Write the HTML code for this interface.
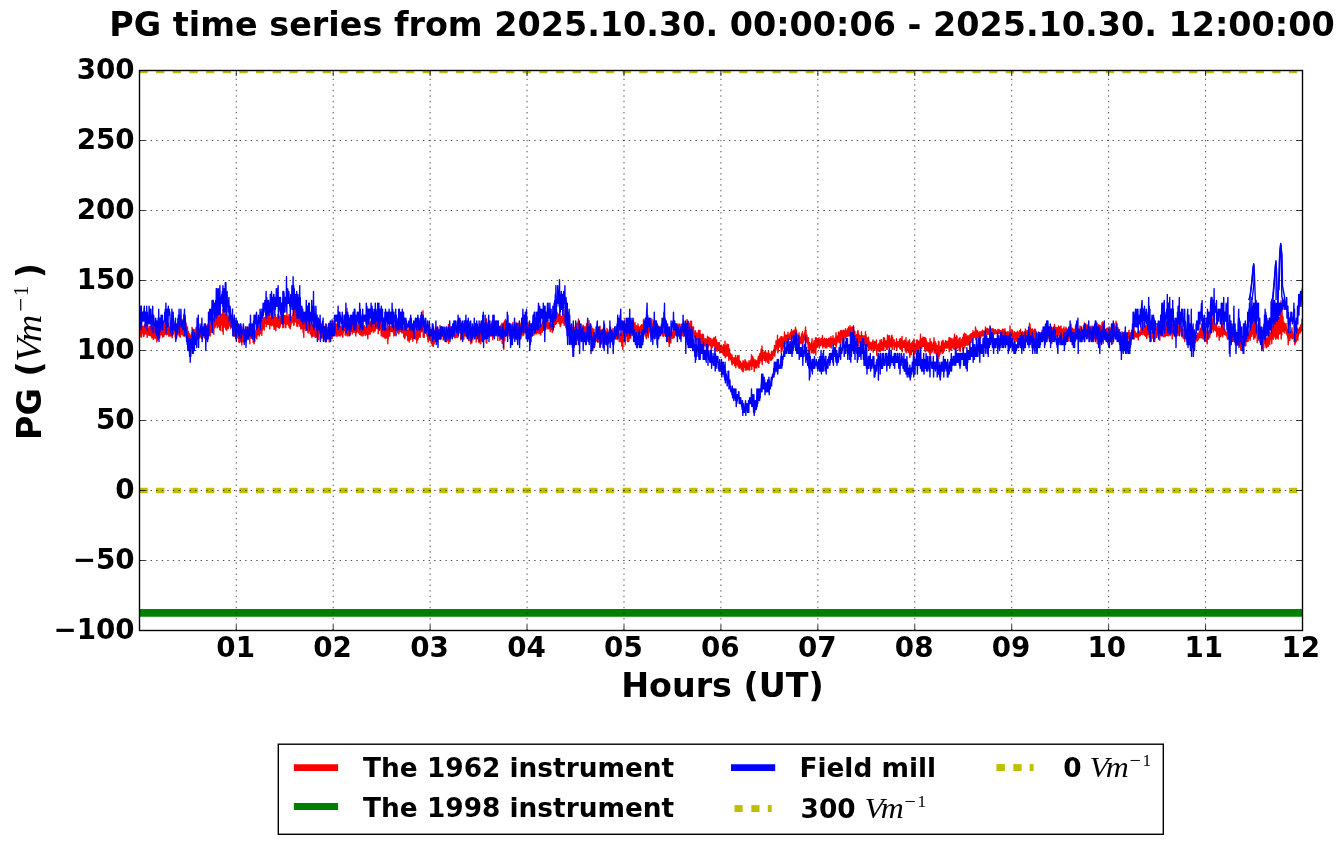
<!DOCTYPE html>
<html lang="en"><head><meta charset="utf-8"><title>PG time series</title>
<style>
html,body{margin:0;padding:0;background:#fff;}
body{width:1342px;height:844px;overflow:hidden;}
svg{display:block;will-change:transform;}
text{font-family:"DejaVu Sans","Liberation Sans",sans-serif;font-weight:bold;fill:#000;}
.m{font-family:"Liberation Serif","DejaVu Serif",serif;font-weight:normal;font-style:italic;}
.mr{font-family:"Liberation Serif","DejaVu Serif",serif;font-weight:normal;font-style:normal;}
.tk{font-size:27.78px;}
.lb{font-size:33.33px;}
.lg{font-size:26.39px;}
</style></head><body>
<svg width="1342" height="844" viewBox="0 0 1342 844">
<rect x="0" y="0" width="1342" height="844" fill="#fff"/>
<defs><clipPath id="ax"><rect x="139.50" y="70.50" width="1163.00" height="560.00"/></clipPath></defs>
<g clip-path="url(#ax)" fill="none" stroke-linejoin="round">
<polyline points="139.5,323.5 139.8,332.9 140.0,326.8 140.2,333.2 140.5,327.8 140.8,336.9 141.0,323.2 141.2,337.3 141.5,328.0 141.8,333.3 142.0,326.6 142.2,332.4 142.5,327.0 142.8,333.7 143.0,326.3 143.2,336.0 143.5,329.7 143.8,336.6 144.0,329.1 144.2,335.3 144.5,324.8 144.8,333.2 145.0,326.2 145.2,333.9 145.5,328.8 145.8,333.8 146.0,324.8 146.2,333.7 146.5,325.8 146.8,333.5 147.0,323.2 147.2,337.4 147.5,329.5 147.8,334.2 148.0,328.7 148.2,333.5 148.5,329.8 148.8,335.2 149.0,325.9 149.2,335.5 149.5,331.5 149.8,335.4 150.0,329.6 150.2,333.4 150.5,326.4 150.8,335.9 151.0,328.3 151.2,333.5 151.5,328.4 151.8,337.7 152.0,328.7 152.2,332.5 152.5,328.1 152.8,332.2 153.0,324.4 153.2,339.4 153.5,327.5 153.8,334.0 154.0,330.2 154.2,337.8 154.5,328.2 154.8,334.1 155.0,329.2 155.2,338.4 155.5,329.8 155.8,335.7 156.0,328.3 156.2,337.4 156.5,325.5 156.8,341.8 157.0,331.4 157.2,336.0 157.5,328.1 157.8,340.1 158.0,330.6 158.2,338.1 158.5,329.6 158.8,333.5 159.0,327.7 159.2,335.0 159.5,330.9 159.8,338.1 160.0,329.6 160.2,333.2 160.5,326.1 160.8,333.4 161.0,327.3 161.2,335.1 161.5,327.8 161.8,332.3 162.0,328.3 162.2,333.8 162.5,324.3 162.8,337.2 163.0,328.8 163.2,333.5 163.5,324.8 163.8,336.2 164.0,326.5 164.2,333.3 164.5,324.5 164.8,334.5 165.0,325.7 165.2,333.5 165.5,327.4 165.8,334.1 166.0,327.7 166.2,331.6 166.5,324.1 166.8,334.7 167.0,327.6 167.2,331.7 167.5,324.5 167.8,330.9 168.0,327.8 168.2,334.5 168.5,323.2 168.8,336.2 169.0,327.8 169.2,333.0 169.5,327.1 169.8,335.7 170.0,328.0 170.2,335.5 170.5,328.2 170.8,336.1 171.0,328.6 171.2,334.4 171.5,328.2 171.8,333.4 172.0,324.3 172.2,337.8 172.5,328.9 172.8,334.4 173.0,326.4 173.2,334.7 173.5,328.9 173.8,332.8 174.0,328.9 174.2,332.9 174.5,326.6 174.8,332.9 175.0,327.2 175.2,337.1 175.5,326.8 175.8,332.2 176.0,327.3 176.2,333.8 176.5,325.8 176.8,336.9 177.0,329.6 177.2,334.6 177.5,327.5 177.8,334.6 178.0,326.6 178.2,333.5 178.5,325.3 178.8,334.6 179.0,326.7 179.2,336.1 179.5,325.5 179.8,336.3 180.0,323.2 180.2,337.3 180.5,327.5 180.8,331.6 181.0,325.9 181.2,331.8 181.5,323.3 181.8,334.6 182.0,319.1 182.2,329.5 182.5,322.5 182.8,330.1 183.0,321.6 183.2,335.8 183.5,320.9 183.8,332.0 184.0,314.1 184.2,336.3 184.5,318.5 184.8,331.5 185.0,322.0 185.2,331.2 185.5,325.7 185.8,331.7 186.0,323.4 186.2,337.3 186.5,329.3 186.8,337.6 187.0,327.2 187.2,337.3 187.5,326.9 187.8,339.5 188.0,331.7 188.2,337.3 188.5,331.7 188.8,341.9 189.0,335.7 189.2,342.0 189.5,333.9 189.8,346.5 190.0,338.5 190.2,344.3 190.5,336.9 190.8,341.4 191.0,335.3 191.2,339.5 191.5,333.2 191.8,339.5 192.0,327.5 192.2,340.8 192.5,328.7 192.8,337.5 193.0,329.1 193.2,336.8 193.5,333.0 193.8,338.3 194.0,329.9 194.2,335.6 194.5,330.0 194.8,336.2 195.0,330.7 195.2,337.9 195.5,329.6 195.8,338.1 196.0,327.6 196.2,335.9 196.5,330.8 196.8,335.6 197.0,326.7 197.2,339.6 197.5,331.3 197.8,335.6 198.0,329.5 198.2,336.1 198.5,329.6 198.8,335.2 199.0,330.5 199.2,336.1 199.5,330.4 199.8,338.1 200.0,328.4 200.2,337.2 200.5,328.4 200.8,336.3 201.0,330.5 201.2,336.7 201.5,326.7 201.8,338.5 202.0,330.8 202.2,334.9 202.5,329.6 202.8,335.2 203.0,330.1 203.2,333.2 203.5,328.9 203.8,334.5 204.0,330.9 204.2,337.4 204.5,327.8 204.8,336.1 205.0,330.6 205.2,336.1 205.5,329.3 205.8,334.3 206.0,329.9 206.2,335.2 206.5,325.6 206.8,337.2 207.0,328.3 207.2,330.8 207.5,326.2 207.8,332.4 208.0,327.8 208.2,335.6 208.5,325.9 208.8,335.0 209.0,326.8 209.2,331.3 209.5,326.9 209.8,332.3 210.0,322.1 210.2,336.0 210.5,327.4 210.8,332.3 211.0,325.2 211.2,332.2 211.5,324.4 211.8,329.3 212.0,323.8 212.2,331.8 212.5,323.5 212.8,332.6 213.0,322.9 213.2,329.5 213.5,318.6 213.8,334.2 214.0,318.6 214.2,328.4 214.5,321.8 214.8,325.8 215.0,315.7 215.2,327.1 215.5,320.1 215.8,325.0 216.0,314.3 216.2,322.8 216.5,317.8 216.8,322.2 217.0,310.7 217.2,327.7 217.5,316.1 217.8,322.8 218.0,314.6 218.2,323.2 218.5,317.1 218.8,326.7 219.0,316.9 219.2,323.8 219.5,316.7 219.8,329.5 220.0,317.8 220.2,330.5 220.5,314.2 220.8,323.5 221.0,316.6 221.2,323.7 221.5,314.9 221.8,325.4 222.0,313.9 222.2,331.1 222.5,313.5 222.8,328.4 223.0,308.9 223.2,334.3 223.5,312.1 223.8,322.6 224.0,311.3 224.2,327.2 224.5,314.0 224.8,322.6 225.0,314.3 225.2,323.8 225.5,314.5 225.8,329.5 226.0,313.6 226.2,320.0 226.5,306.7 226.8,330.2 227.0,312.9 227.2,321.3 227.5,315.7 227.8,323.3 228.0,317.4 228.2,328.6 228.5,316.4 228.8,327.1 229.0,316.7 229.2,326.2 229.5,317.7 229.8,323.7 230.0,314.9 230.2,324.5 230.5,313.9 230.8,328.6 231.0,318.5 231.2,325.2 231.5,316.2 231.8,325.8 232.0,322.6 232.2,327.0 232.5,321.3 232.8,329.2 233.0,324.0 233.2,332.8 233.5,325.7 233.8,335.2 234.0,320.8 234.2,336.4 234.5,325.2 234.8,333.4 235.0,323.0 235.2,335.4 235.5,325.4 235.8,332.4 236.0,327.7 236.2,331.8 236.5,325.9 236.8,334.4 237.0,328.7 237.2,335.2 237.5,329.5 237.8,337.7 238.0,330.9 238.2,335.4 238.5,324.2 238.8,342.1 239.0,330.3 239.2,340.3 239.5,331.8 239.8,342.6 240.0,325.8 240.2,337.6 240.5,328.1 240.8,338.7 241.0,332.4 241.2,341.3 241.5,326.6 241.8,345.0 242.0,327.4 242.2,338.8 242.5,332.6 242.8,341.7 243.0,332.7 243.2,337.9 243.5,332.4 243.8,338.1 244.0,332.7 244.2,342.1 244.5,332.7 244.8,338.8 245.0,332.0 245.2,337.0 245.5,331.4 245.8,339.4 246.0,326.7 246.2,341.1 246.5,332.1 246.8,338.4 247.0,332.2 247.2,338.5 247.5,331.0 247.8,339.8 248.0,332.5 248.2,336.4 248.5,327.5 248.8,337.4 249.0,332.4 249.2,339.2 249.5,326.7 249.8,343.8 250.0,328.0 250.2,337.4 250.5,330.6 250.8,337.3 251.0,331.5 251.2,338.0 251.5,332.4 251.8,338.3 252.0,330.4 252.2,337.3 252.5,332.9 252.8,339.7 253.0,332.7 253.2,342.5 253.5,332.9 253.8,340.8 254.0,326.7 254.2,343.8 254.5,331.8 254.8,341.2 255.0,331.8 255.2,336.4 255.5,331.0 255.8,337.3 256.0,330.3 256.2,335.7 256.5,323.3 256.8,339.0 257.0,326.9 257.2,335.7 257.5,329.9 257.8,334.4 258.0,325.5 258.2,333.1 258.5,326.8 258.8,332.7 259.0,328.6 259.2,336.0 259.5,325.2 259.8,334.1 260.0,326.3 260.2,333.8 260.5,322.8 260.8,333.1 261.0,323.4 261.2,329.9 261.5,320.6 261.8,335.3 262.0,322.9 262.2,330.4 262.5,325.9 262.8,328.4 263.0,318.3 263.2,328.5 263.5,321.7 263.8,328.6 264.0,319.6 264.2,330.0 264.5,317.7 264.8,323.5 265.0,318.7 265.2,323.4 265.5,316.6 265.8,322.0 266.0,312.7 266.2,326.6 266.5,317.2 266.8,322.5 267.0,314.6 267.2,322.0 267.5,317.1 267.8,324.6 268.0,314.1 268.2,322.0 268.5,317.8 268.8,323.3 269.0,314.8 269.2,324.6 269.5,313.5 269.8,328.9 270.0,314.5 270.2,325.7 270.5,318.0 270.8,324.3 271.0,318.1 271.2,322.7 271.5,319.0 271.8,325.9 272.0,317.2 272.2,323.1 272.5,318.4 272.8,324.8 273.0,317.8 273.2,323.3 273.5,320.1 273.8,326.6 274.0,320.8 274.2,329.4 274.5,315.5 274.8,327.4 275.0,318.9 275.2,328.2 275.5,314.8 275.8,330.7 276.0,318.9 276.2,325.2 276.5,317.6 276.8,325.6 277.0,319.2 277.2,326.8 277.5,318.9 277.8,321.9 278.0,314.4 278.2,327.3 278.5,314.3 278.8,326.4 279.0,317.8 279.2,328.2 279.5,319.4 279.8,327.6 280.0,316.2 280.2,326.3 280.5,319.4 280.8,323.5 281.0,319.5 281.2,323.1 281.5,316.9 281.8,321.0 282.0,317.7 282.2,322.2 282.5,312.5 282.8,327.8 283.0,315.9 283.2,322.9 283.5,318.6 283.8,327.5 284.0,317.6 284.2,321.9 284.5,315.5 284.8,323.1 285.0,316.6 285.2,323.2 285.5,315.6 285.8,327.8 286.0,317.7 286.2,322.6 286.5,315.2 286.8,324.0 287.0,312.7 287.2,323.0 287.5,316.6 287.8,321.5 288.0,317.0 288.2,325.1 288.5,319.4 288.8,323.4 289.0,314.6 289.2,327.6 289.5,314.6 289.8,325.4 290.0,314.8 290.2,328.7 290.5,319.4 290.8,326.3 291.0,317.3 291.2,323.9 291.5,317.5 291.8,320.4 292.0,316.7 292.2,321.7 292.5,315.5 292.8,321.4 293.0,313.7 293.2,323.3 293.5,305.5 293.8,325.4 294.0,308.6 294.2,324.5 294.5,306.9 294.8,319.5 295.0,310.8 295.2,321.0 295.5,314.3 295.8,322.3 296.0,314.7 296.2,320.5 296.5,311.2 296.8,325.9 297.0,306.4 297.2,326.6 297.5,311.8 297.8,320.9 298.0,316.3 298.2,323.5 298.5,315.7 298.8,323.1 299.0,316.5 299.2,326.3 299.5,313.9 299.8,320.1 300.0,314.6 300.2,321.7 300.5,312.0 300.8,329.0 301.0,318.5 301.2,323.6 301.5,318.7 301.8,327.8 302.0,320.6 302.2,328.7 302.5,314.7 302.8,328.9 303.0,317.6 303.2,332.7 303.5,312.4 303.8,337.2 304.0,317.7 304.2,329.2 304.5,321.6 304.8,327.7 305.0,319.6 305.2,327.6 305.5,322.1 305.8,330.6 306.0,322.5 306.2,327.5 306.5,324.1 306.8,329.5 307.0,324.2 307.2,330.0 307.5,325.0 307.8,332.2 308.0,322.0 308.2,333.0 308.5,326.4 308.8,330.9 309.0,322.6 309.2,329.7 309.5,325.9 309.8,329.9 310.0,325.7 310.2,333.8 310.5,324.6 310.8,331.1 311.0,324.9 311.2,335.0 311.5,323.1 311.8,337.3 312.0,327.2 312.2,332.3 312.5,327.2 312.8,332.5 313.0,324.3 313.2,336.2 313.5,325.3 313.8,333.1 314.0,327.3 314.2,331.7 314.5,326.8 314.8,336.8 315.0,327.0 315.2,331.5 315.5,322.0 315.8,337.4 316.0,323.8 316.2,334.1 316.5,322.7 316.8,336.8 317.0,325.7 317.2,333.4 317.5,323.3 317.8,332.8 318.0,319.6 318.2,331.4 318.5,318.5 318.8,339.7 319.0,327.9 319.2,333.6 319.5,319.6 319.8,332.3 320.0,321.5 320.2,332.8 320.5,326.3 320.8,335.6 321.0,323.5 321.2,337.5 321.5,327.2 321.8,334.5 322.0,325.1 322.2,333.7 322.5,328.1 322.8,338.1 323.0,328.9 323.2,336.3 323.5,329.9 323.8,338.8 324.0,330.4 324.2,334.8 324.5,326.7 324.8,339.8 325.0,326.3 325.2,336.0 325.5,324.1 325.8,342.0 326.0,331.1 326.2,341.2 326.5,326.1 326.8,338.4 327.0,327.4 327.2,338.1 327.5,327.5 327.8,336.7 328.0,330.1 328.2,338.1 328.5,331.0 328.8,338.0 329.0,323.3 329.2,342.0 329.5,323.6 329.8,335.8 330.0,325.3 330.2,334.7 330.5,328.5 330.8,338.9 331.0,327.2 331.2,332.0 331.5,326.1 331.8,333.3 332.0,319.4 332.2,338.5 332.5,324.0 332.8,330.9 333.0,325.5 333.2,331.8 333.5,321.2 333.8,335.6 334.0,323.3 334.2,332.3 334.5,320.6 334.8,330.4 335.0,324.2 335.2,332.5 335.5,327.2 335.8,333.6 336.0,326.8 336.2,336.3 336.5,324.2 336.8,334.6 337.0,326.0 337.2,333.9 337.5,321.9 337.8,336.1 338.0,324.4 338.2,335.9 338.5,325.2 338.8,332.9 339.0,326.8 339.2,330.9 339.5,325.2 339.8,335.8 340.0,328.9 340.2,336.1 340.5,326.9 340.8,335.0 341.0,326.1 341.2,335.0 341.5,325.9 341.8,331.5 342.0,325.9 342.2,333.9 342.5,324.2 342.8,337.2 343.0,326.0 343.2,333.2 343.5,321.1 343.8,330.6 344.0,323.8 344.2,330.5 344.5,323.3 344.8,328.6 345.0,321.9 345.2,335.0 345.5,320.5 345.8,335.0 346.0,314.8 346.2,329.9 346.5,318.1 346.8,328.4 347.0,308.5 347.2,336.1 347.5,315.1 347.8,330.2 348.0,321.7 348.2,334.0 348.5,322.0 348.8,335.8 349.0,325.6 349.2,331.5 349.5,327.1 349.8,331.8 350.0,326.8 350.2,334.5 350.5,325.8 350.8,330.0 351.0,325.7 351.2,331.5 351.5,325.2 351.8,331.4 352.0,322.0 352.2,333.9 352.5,322.8 352.8,330.1 353.0,326.7 353.2,332.4 353.5,324.6 353.8,329.1 354.0,324.4 354.2,331.3 354.5,324.8 354.8,332.6 355.0,324.7 355.2,331.2 355.5,320.8 355.8,336.1 356.0,325.6 356.2,330.7 356.5,323.2 356.8,332.8 357.0,325.0 357.2,331.6 357.5,327.4 357.8,331.5 358.0,324.8 358.2,331.2 358.5,325.2 358.8,333.0 359.0,326.8 359.2,331.6 359.5,325.6 359.8,334.5 360.0,326.7 360.2,334.1 360.5,325.0 360.8,334.8 361.0,325.6 361.2,335.7 361.5,326.5 361.8,332.5 362.0,327.4 362.2,331.5 362.5,321.9 362.8,336.1 363.0,325.6 363.2,335.7 363.5,327.6 363.8,332.6 364.0,328.0 364.2,333.5 364.5,325.7 364.8,333.5 365.0,329.4 365.2,335.4 365.5,327.8 365.8,333.8 366.0,328.1 366.2,333.9 366.5,324.8 366.8,334.5 367.0,327.6 367.2,335.2 367.5,322.0 367.8,338.8 368.0,327.9 368.2,331.3 368.5,326.6 368.8,334.4 369.0,323.2 369.2,330.3 369.5,323.2 369.8,329.9 370.0,325.6 370.2,334.1 370.5,321.5 370.8,330.5 371.0,324.4 371.2,330.1 371.5,324.3 371.8,331.9 372.0,323.6 372.2,330.6 372.5,323.9 372.8,329.1 373.0,322.9 373.2,330.6 373.5,319.6 373.8,332.6 374.0,324.0 374.2,329.0 374.5,320.9 374.8,329.8 375.0,322.9 375.2,330.9 375.5,322.5 375.8,327.4 376.0,323.8 376.2,327.7 376.5,318.5 376.8,328.6 377.0,322.1 377.2,326.8 377.5,317.0 377.8,327.6 378.0,316.2 378.2,333.7 378.5,320.7 378.8,326.8 379.0,322.3 379.2,330.3 379.5,324.3 379.8,328.2 380.0,320.8 380.2,329.7 380.5,322.3 380.8,330.0 381.0,321.6 381.2,336.1 381.5,326.5 381.8,332.0 382.0,325.5 382.2,332.1 382.5,327.8 382.8,336.5 383.0,326.6 383.2,337.1 383.5,325.8 383.8,336.2 384.0,325.8 384.2,335.0 384.5,329.2 384.8,338.0 385.0,323.8 385.2,334.5 385.5,327.5 385.8,338.5 386.0,329.3 386.2,335.0 386.5,331.3 386.8,337.2 387.0,328.8 387.2,335.8 387.5,324.3 387.8,343.8 388.0,329.8 388.2,338.9 388.5,328.6 388.8,336.3 389.0,326.5 389.2,332.4 389.5,324.4 389.8,336.1 390.0,327.7 390.2,330.2 390.5,326.8 390.8,331.0 391.0,327.3 391.2,331.3 391.5,326.3 391.8,331.6 392.0,324.3 392.2,331.5 392.5,326.2 392.8,330.6 393.0,326.9 393.2,332.0 393.5,323.2 393.8,336.1 394.0,326.7 394.2,332.3 394.5,326.5 394.8,335.1 395.0,325.4 395.2,330.9 395.5,325.7 395.8,330.0 396.0,323.3 396.2,330.2 396.5,327.3 396.8,330.1 397.0,322.9 397.2,329.8 397.5,325.0 397.8,332.9 398.0,325.2 398.2,330.1 398.5,322.0 398.8,333.9 399.0,323.5 399.2,331.0 399.5,324.2 399.8,331.7 400.0,325.5 400.2,331.7 400.5,326.6 400.8,330.2 401.0,325.8 401.2,331.0 401.5,328.0 401.8,333.0 402.0,325.1 402.2,331.8 402.5,327.0 402.8,332.6 403.0,327.5 403.2,332.5 403.5,328.4 403.8,337.1 404.0,329.0 404.2,337.0 404.5,324.4 404.8,338.7 405.0,330.0 405.2,337.2 405.5,329.5 405.8,333.4 406.0,329.8 406.2,334.9 406.5,330.2 406.8,335.6 407.0,331.5 407.2,335.1 407.5,330.7 407.8,340.5 408.0,330.5 408.2,336.6 408.5,330.4 408.8,336.8 409.0,326.6 409.2,342.0 409.5,327.3 409.8,337.3 410.0,329.0 410.2,339.6 410.5,332.9 410.8,337.4 411.0,330.9 411.2,337.3 411.5,329.6 411.8,336.8 412.0,331.4 412.2,339.6 412.5,328.1 412.8,341.3 413.0,334.0 413.2,338.2 413.5,333.9 413.8,338.0 414.0,332.2 414.2,337.2 414.5,329.0 414.8,338.3 415.0,333.0 415.2,338.4 415.5,334.9 415.8,339.0 416.0,331.0 416.2,339.6 416.5,327.8 416.8,343.1 417.0,331.3 417.2,338.4 417.5,329.8 417.8,339.8 418.0,327.2 418.2,338.4 418.5,330.2 418.8,336.9 419.0,327.7 419.2,335.4 419.5,327.2 419.8,336.7 420.0,325.3 420.2,337.3 420.5,327.5 420.8,332.6 421.0,325.2 421.2,330.4 421.5,323.7 421.8,331.4 422.0,322.8 422.2,328.9 422.5,319.9 422.8,330.8 423.0,310.8 423.2,337.3 423.5,320.2 423.8,333.6 424.0,322.8 424.2,337.4 424.5,327.1 424.8,333.2 425.0,327.9 425.2,333.0 425.5,326.4 425.8,332.2 426.0,324.7 426.2,333.4 426.5,325.3 426.8,334.6 427.0,329.7 427.2,336.6 427.5,325.2 427.8,340.0 428.0,324.4 428.2,342.0 428.5,331.8 428.8,337.0 429.0,331.3 429.2,339.9 429.5,325.6 429.8,340.0 430.0,330.5 430.2,337.1 430.5,330.2 430.8,338.1 431.0,329.1 431.2,343.2 431.5,329.4 431.8,342.6 432.0,332.8 432.2,345.5 432.5,330.2 432.8,340.2 433.0,325.5 433.2,346.6 433.5,331.9 433.8,337.9 434.0,331.0 434.2,343.9 434.5,332.6 434.8,341.6 435.0,330.7 435.2,341.0 435.5,328.3 435.8,340.0 436.0,329.4 436.2,340.9 436.5,327.8 436.8,342.3 437.0,326.9 437.2,340.2 437.5,331.4 437.8,337.1 438.0,331.0 438.2,335.7 438.5,329.3 438.8,335.6 439.0,330.6 439.2,335.6 439.5,329.2 439.8,335.0 440.0,325.5 440.2,339.6 440.5,328.2 440.8,339.3 441.0,329.9 441.2,336.1 441.5,326.8 441.8,335.2 442.0,331.0 442.2,336.1 442.5,330.1 442.8,335.7 443.0,332.4 443.2,340.1 443.5,332.2 443.8,335.4 444.0,331.5 444.2,337.1 444.5,328.8 444.8,336.8 445.0,327.9 445.2,341.0 445.5,331.7 445.8,338.1 446.0,332.3 446.2,339.5 446.5,331.5 446.8,341.9 447.0,332.3 447.2,338.7 447.5,330.4 447.8,339.1 448.0,328.9 448.2,340.8 448.5,324.4 448.8,343.6 449.0,330.5 449.2,336.5 449.5,331.1 449.8,337.1 450.0,329.7 450.2,338.3 450.5,329.5 450.8,335.6 451.0,326.8 451.2,337.2 451.5,327.6 451.8,332.9 452.0,328.2 452.2,335.2 452.5,327.2 452.8,336.6 453.0,326.4 453.2,335.8 453.5,329.8 453.8,335.4 454.0,328.7 454.2,336.9 454.5,323.2 454.8,337.9 455.0,327.6 455.2,334.8 455.5,327.3 455.8,334.6 456.0,327.6 456.2,337.6 456.5,329.1 456.8,332.4 457.0,328.5 457.2,333.0 457.5,325.4 457.8,337.5 458.0,325.0 458.2,333.8 458.5,327.5 458.8,333.6 459.0,324.1 459.2,332.3 459.5,325.7 459.8,332.1 460.0,321.4 460.2,332.7 460.5,320.8 460.8,339.7 461.0,324.0 461.2,334.0 461.5,323.0 461.8,335.0 462.0,327.7 462.2,337.4 462.5,325.5 462.8,337.1 463.0,326.7 463.2,334.1 463.5,328.6 463.8,339.6 464.0,328.1 464.2,334.5 464.5,324.8 464.8,335.7 465.0,327.3 465.2,333.4 465.5,323.8 465.8,334.5 466.0,325.7 466.2,337.1 466.5,324.8 466.8,334.0 467.0,327.8 467.2,334.4 467.5,324.8 467.8,335.3 468.0,325.3 468.2,332.5 468.5,319.6 468.8,340.8 469.0,321.5 469.2,333.4 469.5,322.2 469.8,335.9 470.0,327.7 470.2,340.6 470.5,322.9 470.8,343.8 471.0,328.2 471.2,343.1 471.5,331.1 471.8,342.9 472.0,329.9 472.2,336.2 472.5,327.7 472.8,339.9 473.0,330.7 473.2,337.7 473.5,326.3 473.8,336.4 474.0,328.0 474.2,335.0 474.5,328.7 474.8,335.8 475.0,327.0 475.2,338.1 475.5,328.0 475.8,337.9 476.0,323.2 476.2,342.1 476.5,327.8 476.8,337.1 477.0,331.5 477.2,336.2 477.5,330.8 477.8,336.7 478.0,330.7 478.2,336.8 478.5,327.8 478.8,341.9 479.0,330.1 479.2,342.8 479.5,328.2 479.8,340.0 480.0,330.8 480.2,338.2 480.5,324.3 480.8,343.8 481.0,329.7 481.2,336.0 481.5,331.1 481.8,340.9 482.0,325.2 482.2,339.4 482.5,326.9 482.8,338.5 483.0,329.5 483.2,337.2 483.5,322.2 483.8,339.5 484.0,326.0 484.2,338.5 484.5,326.9 484.8,334.6 485.0,323.7 485.2,335.2 485.5,323.5 485.8,337.6 486.0,327.4 486.2,342.6 486.5,318.6 486.8,343.2 487.0,322.1 487.2,336.2 487.5,324.0 487.8,334.7 488.0,326.0 488.2,335.6 488.5,326.8 488.8,336.3 489.0,324.0 489.2,337.1 489.5,324.1 489.8,335.3 490.0,324.0 490.2,335.7 490.5,326.3 490.8,335.1 491.0,325.4 491.2,335.7 491.5,324.7 491.8,332.6 492.0,322.0 492.2,333.1 492.5,320.7 492.8,339.7 493.0,325.8 493.2,332.8 493.5,323.0 493.8,337.6 494.0,328.7 494.2,335.9 494.5,328.5 494.8,335.1 495.0,327.3 495.2,335.4 495.5,328.0 495.8,335.0 496.0,323.2 496.2,333.6 496.5,326.1 496.8,332.9 497.0,327.1 497.2,334.0 497.5,323.2 497.8,340.4 498.0,327.8 498.2,335.9 498.5,327.2 498.8,335.1 499.0,328.9 499.2,335.4 499.5,328.3 499.8,340.3 500.0,326.2 500.2,336.3 500.5,326.9 500.8,338.7 501.0,324.9 501.2,335.8 501.5,329.4 501.8,338.2 502.0,323.2 502.2,343.4 502.5,332.4 502.8,341.3 503.0,332.8 503.2,341.7 503.5,323.0 503.8,349.5 504.0,332.6 504.2,339.7 504.5,321.0 504.8,340.3 505.0,325.3 505.2,333.3 505.5,319.4 505.8,336.3 506.0,325.4 506.2,330.6 506.5,325.7 506.8,331.7 507.0,325.6 507.2,329.8 507.5,323.3 507.8,336.0 508.0,325.8 508.2,331.4 508.5,325.3 508.8,332.1 509.0,324.8 509.2,332.6 509.5,323.2 509.8,330.6 510.0,325.2 510.2,332.0 510.5,325.0 510.8,332.7 511.0,325.1 511.2,330.6 511.5,326.7 511.8,333.8 512.0,327.4 512.2,334.3 512.5,328.4 512.8,334.7 513.0,322.5 513.2,337.2 513.5,325.4 513.8,332.3 514.0,327.6 514.2,331.0 514.5,326.0 514.8,332.5 515.0,323.6 515.2,331.8 515.5,325.7 515.8,333.2 516.0,322.2 516.2,332.0 516.5,327.0 516.8,335.6 517.0,323.6 517.2,334.0 517.5,323.3 517.8,331.3 518.0,323.6 518.2,332.3 518.5,324.1 518.8,332.0 519.0,324.0 519.2,330.4 519.5,323.5 519.8,331.0 520.0,323.0 520.2,329.4 520.5,324.2 520.8,331.9 521.0,325.3 521.2,331.4 521.5,325.1 521.8,331.0 522.0,323.8 522.2,329.0 522.5,319.0 522.8,335.9 523.0,326.2 523.2,332.5 523.5,323.3 523.8,334.8 524.0,323.6 524.2,328.9 524.5,318.5 524.8,331.9 525.0,323.2 525.2,328.8 525.5,322.9 525.8,329.2 526.0,324.2 526.2,331.8 526.5,322.2 526.8,327.2 527.0,316.7 527.2,333.7 527.5,324.0 527.8,331.4 528.0,322.3 528.2,330.9 528.5,325.1 528.8,331.7 529.0,324.6 529.2,330.0 529.5,324.2 529.8,331.7 530.0,326.6 530.2,331.5 530.5,326.8 530.8,331.5 531.0,327.0 531.2,332.0 531.5,328.4 531.8,334.3 532.0,325.5 532.2,336.0 532.5,328.6 532.8,331.7 533.0,326.7 533.2,335.2 533.5,329.7 533.8,332.4 534.0,329.2 534.2,334.7 534.5,328.1 534.8,332.8 535.0,328.5 535.2,330.8 535.5,326.6 535.8,333.7 536.0,327.4 536.2,331.1 536.5,325.5 536.8,333.7 537.0,326.9 537.2,331.2 537.5,327.6 537.8,332.3 538.0,328.1 538.2,332.4 538.5,329.3 538.8,333.2 539.0,328.9 539.2,333.7 539.5,326.1 539.8,333.1 540.0,325.7 540.2,332.9 540.5,324.2 540.8,335.1 541.0,324.0 541.2,330.0 541.5,325.8 541.8,330.4 542.0,326.2 542.2,332.2 542.5,324.3 542.8,330.0 543.0,321.6 543.2,328.6 543.5,325.1 543.8,330.4 544.0,324.2 544.2,329.2 544.5,323.7 544.8,327.7 545.0,321.4 545.2,325.2 545.5,319.9 545.8,329.3 546.0,322.5 546.2,326.5 546.5,319.0 546.8,325.6 547.0,320.5 547.2,327.0 547.5,316.0 547.8,329.1 548.0,321.9 548.2,327.5 548.5,322.5 548.8,327.3 549.0,323.4 549.2,328.6 549.5,324.5 549.8,328.1 550.0,323.2 550.2,331.5 550.5,326.5 550.8,329.4 551.0,327.0 551.2,328.9 551.5,326.9 551.8,329.5 552.0,324.2 552.2,332.5 552.5,326.5 552.8,331.3 553.0,325.3 553.2,327.5 553.5,324.3 553.8,327.2 554.0,320.8 554.2,327.2 554.5,320.1 554.8,324.3 555.0,320.0 555.2,322.1 555.5,317.2 555.8,324.2 556.0,315.8 556.2,319.2 556.5,310.1 556.8,323.2 557.0,313.4 557.2,319.4 557.5,313.0 557.8,319.6 558.0,314.5 558.2,321.5 558.5,314.5 558.8,321.7 559.0,318.0 559.2,323.4 559.5,315.5 559.8,324.1 560.0,314.7 560.2,326.5 560.5,316.2 560.8,325.6 561.0,317.4 561.2,322.8 561.5,318.8 561.8,323.1 562.0,316.1 562.2,322.7 562.5,316.6 562.8,320.8 563.0,314.0 563.2,321.1 563.5,315.8 563.8,323.4 564.0,310.3 564.2,325.4 564.5,315.4 564.8,324.0 565.0,317.2 565.2,323.8 565.5,319.3 565.8,327.8 566.0,315.8 566.2,328.1 566.5,322.9 566.8,330.1 567.0,324.2 567.2,329.8 567.5,319.9 567.8,335.9 568.0,324.2 568.2,330.3 568.5,321.7 568.8,333.2 569.0,326.2 569.2,331.1 569.5,326.3 569.8,335.0 570.0,327.0 570.2,333.1 570.5,327.9 570.8,333.4 571.0,325.3 571.2,335.6 571.5,330.4 571.8,338.8 572.0,328.0 572.2,338.0 572.5,327.9 572.8,334.7 573.0,328.7 573.2,336.6 573.5,325.3 573.8,340.8 574.0,328.2 574.2,336.3 574.5,328.0 574.8,342.1 575.0,328.1 575.2,343.0 575.5,326.2 575.8,338.9 576.0,323.3 576.2,344.6 576.5,330.5 576.8,336.9 577.0,329.1 577.2,340.4 577.5,323.4 577.8,332.6 578.0,321.7 578.2,334.7 578.5,319.0 578.8,336.3 579.0,321.5 579.2,329.6 579.5,325.4 579.8,331.4 580.0,324.3 580.2,334.3 580.5,327.3 580.8,334.5 581.0,324.4 581.2,333.6 581.5,328.1 581.8,338.9 582.0,328.6 582.2,336.3 582.5,330.0 582.8,334.6 583.0,325.1 583.2,340.8 583.5,325.8 583.8,335.5 584.0,329.3 584.2,335.8 584.5,329.5 584.8,335.6 585.0,326.7 585.2,334.2 585.5,328.4 585.8,340.4 586.0,329.1 586.2,333.8 586.5,323.8 586.8,339.0 587.0,325.8 587.2,335.2 587.5,324.2 587.8,333.9 588.0,326.6 588.2,338.5 588.5,326.8 588.8,333.4 589.0,320.4 589.2,340.8 589.5,327.5 589.8,335.8 590.0,325.3 590.2,335.9 590.5,328.9 590.8,337.7 591.0,327.0 591.2,336.4 591.5,326.2 591.8,340.6 592.0,329.7 592.2,342.1 592.5,328.5 592.8,339.4 593.0,331.8 593.2,341.7 593.5,331.1 593.8,343.1 594.0,329.1 594.2,347.8 594.5,334.4 594.8,346.2 595.0,334.4 595.2,341.6 595.5,334.1 595.8,340.1 596.0,335.0 596.2,341.3 596.5,329.5 596.8,339.9 597.0,332.9 597.2,340.2 597.5,332.5 597.8,342.3 598.0,334.1 598.2,341.1 598.5,334.1 598.8,341.7 599.0,332.1 599.2,341.5 599.5,330.9 599.8,341.9 600.0,326.0 600.2,347.3 600.5,334.3 600.8,340.9 601.0,330.1 601.2,343.4 601.5,331.9 601.8,341.3 602.0,333.9 602.2,339.2 602.5,329.4 602.8,340.3 603.0,332.4 603.2,342.4 603.5,328.3 603.8,347.8 604.0,334.9 604.2,339.5 604.5,329.8 604.8,343.8 605.0,333.5 605.2,343.8 605.5,333.2 605.8,342.1 606.0,334.1 606.2,339.7 606.5,331.8 606.8,343.0 607.0,328.4 607.2,346.0 607.5,331.0 607.8,342.0 608.0,330.2 608.2,342.6 608.5,333.7 608.8,343.6 609.0,332.5 609.2,339.1 609.5,334.3 609.8,339.4 610.0,332.9 610.2,341.5 610.5,334.4 610.8,340.7 611.0,332.5 611.2,338.6 611.5,332.3 611.8,341.0 612.0,333.8 612.2,341.5 612.5,330.5 612.8,338.1 613.0,328.4 613.2,342.3 613.5,332.4 613.8,336.3 614.0,332.2 614.2,337.2 614.5,328.4 614.8,335.1 615.0,329.4 615.2,335.6 615.5,326.6 615.8,339.1 616.0,331.4 616.2,335.6 616.5,328.9 616.8,337.3 617.0,331.2 617.2,339.6 617.5,328.6 617.8,337.6 618.0,331.3 618.2,335.5 618.5,329.3 618.8,336.1 619.0,328.4 619.2,341.7 619.5,333.2 619.8,338.3 620.0,336.1 620.2,341.0 620.5,335.5 620.8,341.6 621.0,333.6 621.2,342.1 621.5,335.0 621.8,346.1 622.0,337.3 622.2,344.0 622.5,331.8 622.8,349.4 623.0,334.3 623.2,341.9 623.5,330.3 623.8,338.3 624.0,330.2 624.2,336.9 624.5,325.2 624.8,336.9 625.0,318.5 625.2,344.7 625.5,329.0 625.8,336.0 626.0,325.5 626.2,336.6 626.5,328.2 626.8,336.4 627.0,331.1 627.2,340.9 627.5,329.1 627.8,341.7 628.0,330.6 628.2,339.3 628.5,331.5 628.8,341.2 629.0,334.4 629.2,339.0 629.5,333.6 629.8,336.5 630.0,331.4 630.2,335.5 630.5,327.7 630.8,338.2 631.0,327.6 631.2,335.4 631.5,326.3 631.8,335.3 632.0,326.1 632.2,332.1 632.5,322.0 632.8,330.2 633.0,324.0 633.2,335.0 633.5,318.4 633.8,336.4 634.0,324.1 634.2,335.3 634.5,325.1 634.8,331.5 635.0,322.7 635.2,332.2 635.5,326.2 635.8,333.0 636.0,327.4 636.2,331.8 636.5,325.6 636.8,333.1 637.0,328.2 637.2,332.0 637.5,327.7 637.8,331.4 638.0,324.0 638.2,335.2 638.5,326.7 638.8,333.5 639.0,327.7 639.2,331.3 639.5,328.7 639.8,330.7 640.0,326.9 640.2,332.0 640.5,326.0 640.8,333.0 641.0,327.5 641.2,330.7 641.5,324.8 641.8,331.2 642.0,326.0 642.2,330.2 642.5,326.0 642.8,328.9 643.0,324.5 643.2,328.7 643.5,319.5 643.8,334.6 644.0,325.5 644.2,331.3 644.5,323.5 644.8,332.0 645.0,327.5 645.2,334.1 645.5,331.5 645.8,336.5 646.0,328.2 646.2,338.8 646.5,332.4 646.8,335.9 647.0,328.7 647.2,334.3 647.5,329.4 647.8,333.3 648.0,327.6 648.2,337.5 648.5,327.9 648.8,334.7 649.0,326.0 649.2,330.7 649.5,325.0 649.8,329.9 650.0,322.9 650.2,331.2 650.5,323.3 650.8,335.4 651.0,318.8 651.2,336.5 651.5,323.8 651.8,334.6 652.0,319.2 652.2,330.5 652.5,324.4 652.8,330.6 653.0,324.2 653.2,333.6 653.5,326.1 653.8,337.5 654.0,326.0 654.2,332.9 654.5,326.8 654.8,333.1 655.0,327.4 655.2,335.4 655.5,321.3 655.8,338.5 656.0,325.9 656.2,335.2 656.5,327.2 656.8,333.0 657.0,325.3 657.2,332.7 657.5,327.9 657.8,331.6 658.0,327.6 658.2,333.3 658.5,326.0 658.8,335.4 659.0,329.8 659.2,332.6 659.5,327.5 659.8,335.4 660.0,329.5 660.2,332.6 660.5,328.7 660.8,333.6 661.0,331.1 661.2,333.9 661.5,330.4 661.8,333.5 662.0,331.0 662.2,334.8 662.5,331.6 662.8,335.7 663.0,328.3 663.2,336.5 663.5,327.6 663.8,334.9 664.0,325.7 664.2,332.8 664.5,324.7 664.8,331.0 665.0,320.1 665.2,336.1 665.5,325.3 665.8,334.3 666.0,327.2 666.2,336.5 666.5,327.4 666.8,335.7 667.0,330.7 667.2,336.4 667.5,331.8 667.8,337.2 668.0,332.9 668.2,338.7 668.5,334.9 668.8,342.8 669.0,331.5 669.2,346.5 669.5,336.9 669.8,342.5 670.0,334.7 670.2,339.7 670.5,335.3 670.8,343.0 671.0,335.0 671.2,338.5 671.5,333.6 671.8,338.0 672.0,331.8 672.2,337.0 672.5,333.6 672.8,338.4 673.0,332.0 673.2,337.1 673.5,329.1 673.8,335.3 674.0,328.3 674.2,337.6 674.5,330.2 674.8,333.2 675.0,328.2 675.2,335.1 675.5,329.1 675.8,332.0 676.0,326.8 676.2,332.5 676.5,328.2 676.8,333.1 677.0,329.9 677.2,332.1 677.5,326.3 677.8,330.5 678.0,327.3 678.2,331.0 678.5,324.6 678.8,331.8 679.0,323.9 679.2,335.4 679.5,327.4 679.8,331.7 680.0,324.3 680.2,330.5 680.5,327.7 680.8,331.6 681.0,328.1 681.2,333.0 681.5,328.8 681.8,335.8 682.0,327.6 682.2,333.3 682.5,327.1 682.8,335.6 683.0,329.5 683.2,332.9 683.5,325.9 683.8,336.5 684.0,328.7 684.2,332.6 684.5,329.0 684.8,334.4 685.0,327.3 685.2,334.8 685.5,323.9 685.8,333.0 686.0,325.1 686.2,334.2 686.5,323.8 686.8,331.0 687.0,319.5 687.2,336.5 687.5,325.9 687.8,331.4 688.0,321.9 688.2,330.6 688.5,321.7 688.8,329.0 689.0,324.0 689.2,331.3 689.5,324.0 689.8,330.7 690.0,325.5 690.2,332.8 690.5,321.3 690.8,334.3 691.0,321.5 691.2,330.6 691.5,321.1 691.8,336.5 692.0,327.5 692.2,335.2 692.5,328.2 692.8,334.3 693.0,327.0 693.2,333.6 693.5,327.0 693.8,337.4 694.0,331.3 694.2,335.6 694.5,332.5 694.8,336.5 695.0,334.4 695.2,337.9 695.5,330.8 695.8,341.5 696.0,332.7 696.2,339.4 696.5,334.4 696.8,338.7 697.0,333.1 697.2,339.8 697.5,333.7 697.8,338.0 698.0,334.3 698.2,338.5 698.5,330.6 698.8,340.8 699.0,330.2 699.2,344.6 699.5,334.7 699.8,345.0 700.0,330.5 700.2,347.0 700.5,334.5 700.8,341.6 701.0,336.6 701.2,344.8 701.5,336.9 701.8,343.3 702.0,334.3 702.2,341.6 702.5,337.7 702.8,344.6 703.0,334.3 703.2,342.7 703.5,334.6 703.8,347.0 704.0,338.6 704.2,343.3 704.5,338.9 704.8,345.3 705.0,340.6 705.2,343.5 705.5,338.8 705.8,343.1 706.0,339.6 706.2,346.7 706.5,340.4 706.8,344.3 707.0,338.9 707.2,345.6 707.5,336.3 707.8,348.1 708.0,339.2 708.2,343.9 708.5,337.2 708.8,345.8 709.0,337.9 709.2,344.3 709.5,342.0 709.8,344.9 710.0,338.2 710.2,345.1 710.5,339.2 710.8,345.9 711.0,338.6 711.2,350.5 711.5,342.5 711.8,347.1 712.0,340.3 712.2,347.6 712.5,341.6 712.8,345.5 713.0,338.9 713.2,345.6 713.5,337.9 713.8,344.5 714.0,341.4 714.2,346.0 714.5,338.0 714.8,346.0 715.0,339.9 715.2,346.7 715.5,336.4 715.8,350.7 716.0,342.4 716.2,349.2 716.5,339.9 716.8,348.1 717.0,342.8 717.2,351.2 717.5,343.3 717.8,348.8 718.0,342.8 718.2,349.1 718.5,344.8 718.8,350.6 719.0,342.6 719.2,350.7 719.5,342.7 719.8,353.0 720.0,345.7 720.2,352.3 720.5,345.6 720.8,352.2 721.0,346.0 721.2,350.1 721.5,345.3 721.8,350.7 722.0,347.5 722.2,352.8 722.5,346.9 722.8,350.9 723.0,347.8 723.2,354.7 723.5,344.7 723.8,355.4 724.0,347.4 724.2,350.7 724.5,345.9 724.8,352.9 725.0,341.2 725.2,357.8 725.5,345.5 725.8,356.6 726.0,349.0 726.2,354.5 726.5,347.0 726.8,353.5 727.0,343.9 727.2,356.1 727.5,344.4 727.8,355.2 728.0,349.8 728.2,355.8 728.5,344.7 728.8,360.2 729.0,348.5 729.2,357.4 729.5,348.9 729.8,358.4 730.0,353.6 730.2,359.0 730.5,353.4 730.8,359.4 731.0,356.5 731.2,360.9 731.5,354.9 731.8,363.7 732.0,354.9 732.2,364.9 732.5,358.4 732.8,362.8 733.0,357.6 733.2,361.5 733.5,358.6 733.8,363.4 734.0,358.5 734.2,362.6 734.5,358.0 734.8,365.8 735.0,359.7 735.2,364.5 735.5,355.5 735.8,367.8 736.0,360.5 736.2,363.6 736.5,359.9 736.8,362.7 737.0,357.6 737.2,365.0 737.5,355.8 737.8,363.6 738.0,356.1 738.2,366.9 738.5,359.7 738.8,366.4 739.0,355.5 739.2,368.4 739.5,360.4 739.8,367.8 740.0,361.4 740.2,366.4 740.5,361.4 740.8,366.4 741.0,363.4 741.2,369.2 741.5,363.3 741.8,369.1 742.0,364.0 742.2,371.0 742.5,363.8 742.8,368.7 743.0,360.8 743.2,371.7 743.5,361.3 743.8,367.3 744.0,362.4 744.2,366.9 744.5,363.7 744.8,367.4 745.0,359.8 745.2,370.2 745.5,360.1 745.8,368.9 746.0,363.3 746.2,367.7 746.5,362.4 746.8,370.0 747.0,362.1 747.2,368.2 747.5,363.4 747.8,368.9 748.0,363.8 748.2,369.5 748.5,364.8 748.8,367.4 749.0,360.6 749.2,370.1 749.5,363.6 749.8,369.7 750.0,361.2 750.2,366.0 750.5,360.9 750.8,365.5 751.0,359.8 751.2,365.7 751.5,354.6 751.8,369.6 752.0,359.2 752.2,364.5 752.5,356.4 752.8,364.5 753.0,356.9 753.2,365.9 753.5,361.9 753.8,366.9 754.0,359.1 754.2,371.4 754.5,362.7 754.8,367.7 755.0,362.7 755.2,367.3 755.5,360.0 755.8,367.9 756.0,360.5 756.2,366.7 756.5,361.7 756.8,367.9 757.0,361.0 757.2,365.4 757.5,361.1 757.8,365.1 758.0,358.0 758.2,365.7 758.5,356.5 758.8,367.5 759.0,357.6 759.2,362.3 759.5,354.6 759.8,363.3 760.0,353.5 760.2,360.3 760.5,355.7 760.8,360.3 761.0,349.8 761.2,359.1 761.5,348.6 761.8,362.1 762.0,346.0 762.2,364.6 762.5,350.3 762.8,357.2 763.0,351.6 763.2,358.4 763.5,353.0 763.8,358.5 764.0,353.5 764.2,360.4 764.5,352.1 764.8,359.7 765.0,351.4 765.2,360.3 765.5,350.6 765.8,362.0 766.0,352.1 766.2,357.7 766.5,354.6 766.8,360.0 767.0,356.4 767.2,360.2 767.5,353.3 767.8,362.8 768.0,354.3 768.2,358.9 768.5,351.3 768.8,363.4 769.0,353.3 769.2,359.8 769.5,354.2 769.8,358.7 770.0,354.6 770.2,358.7 770.5,355.3 770.8,360.4 771.0,353.9 771.2,359.2 771.5,351.3 771.8,359.8 772.0,354.5 772.2,358.0 772.5,353.4 772.8,358.2 773.0,351.2 773.2,355.8 773.5,351.5 773.8,354.3 774.0,349.3 774.2,354.9 774.5,345.4 774.8,356.2 775.0,347.9 775.2,352.5 775.5,346.1 775.8,350.8 776.0,340.7 776.2,349.1 776.5,342.2 776.8,347.2 777.0,341.7 777.2,347.8 777.5,335.2 777.8,352.9 778.0,340.7 778.2,351.5 778.5,341.5 778.8,347.2 779.0,339.4 779.2,347.3 779.5,340.0 779.8,345.5 780.0,338.0 780.2,345.4 780.5,339.9 780.8,346.9 781.0,336.4 781.2,352.6 781.5,339.0 781.8,351.4 782.0,336.6 782.2,350.0 782.5,341.7 782.8,348.6 783.0,340.3 783.2,347.2 783.5,337.6 783.8,346.9 784.0,336.5 784.2,341.5 784.5,331.9 784.8,346.8 785.0,336.0 785.2,343.4 785.5,335.4 785.8,341.1 786.0,334.9 786.2,341.8 786.5,335.3 786.8,339.7 787.0,335.6 787.2,340.0 787.5,335.6 787.8,340.1 788.0,332.2 788.2,342.2 788.5,335.0 788.8,339.1 789.0,336.1 789.2,339.1 789.5,335.3 789.8,339.5 790.0,333.5 790.2,339.9 790.5,332.4 790.8,337.4 791.0,333.0 791.2,336.2 791.5,329.5 791.8,338.7 792.0,331.7 792.2,338.0 792.5,331.3 792.8,335.2 793.0,331.5 793.2,337.2 793.5,331.2 793.8,333.9 794.0,330.2 794.2,333.4 794.5,330.6 794.8,334.4 795.0,329.9 795.2,333.1 795.5,327.1 795.8,337.3 796.0,329.2 796.2,338.3 796.5,330.5 796.8,335.7 797.0,333.6 797.2,338.4 797.5,334.8 797.8,340.0 798.0,335.5 798.2,340.5 798.5,337.7 798.8,346.0 799.0,332.8 799.2,347.0 799.5,337.7 799.8,344.1 800.0,338.6 800.2,343.4 800.5,337.9 800.8,342.5 801.0,336.3 801.2,342.1 801.5,334.0 801.8,343.5 802.0,336.0 802.2,342.6 802.5,331.7 802.8,346.6 803.0,335.3 803.2,343.0 803.5,335.2 803.8,340.7 804.0,335.1 804.2,339.9 804.5,333.2 804.8,338.7 805.0,330.6 805.2,338.7 805.5,326.9 805.8,343.0 806.0,330.2 806.2,341.5 806.5,335.5 806.8,340.7 807.0,335.2 807.2,342.1 807.5,338.1 807.8,343.9 808.0,340.3 808.2,347.4 808.5,337.6 808.8,352.9 809.0,343.4 809.2,350.6 809.5,342.8 809.8,349.3 810.0,345.2 810.2,349.6 810.5,344.2 810.8,349.0 811.0,343.6 811.2,352.6 811.5,342.3 811.8,349.0 812.0,338.8 812.2,353.0 812.5,344.1 812.8,349.1 813.0,344.4 813.2,349.9 813.5,343.1 813.8,353.2 814.0,340.8 814.2,347.6 814.5,343.1 814.8,349.6 815.0,341.3 815.2,352.5 815.5,337.7 815.8,355.1 816.0,341.4 816.2,346.9 816.5,338.0 816.8,347.6 817.0,338.4 817.2,347.4 817.5,342.0 817.8,345.5 818.0,339.0 818.2,345.6 818.5,341.4 818.8,344.7 819.0,337.6 819.2,348.1 819.5,339.8 819.8,345.5 820.0,340.5 820.2,345.1 820.5,340.4 820.8,345.7 821.0,338.2 821.2,344.1 821.5,339.2 821.8,343.9 822.0,341.2 822.2,345.0 822.5,335.4 822.8,348.1 823.0,340.5 823.2,345.8 823.5,339.7 823.8,346.3 824.0,340.1 824.2,344.6 824.5,338.2 824.8,345.9 825.0,342.1 825.2,347.9 825.5,339.3 825.8,347.3 826.0,341.5 826.2,345.5 826.5,338.8 826.8,348.1 827.0,341.0 827.2,345.3 827.5,339.7 827.8,345.3 828.0,340.2 828.2,346.2 828.5,338.5 828.8,346.1 829.0,338.0 829.2,344.6 829.5,341.9 829.8,347.0 830.0,338.5 830.2,344.8 830.5,340.6 830.8,343.7 831.0,336.5 831.2,348.1 831.5,340.3 831.8,343.4 832.0,338.9 832.2,342.3 832.5,338.3 832.8,343.8 833.0,335.8 833.2,345.6 833.5,338.7 833.8,343.4 834.0,339.4 834.2,344.3 834.5,338.7 834.8,343.5 835.0,337.9 835.2,345.1 835.5,337.9 835.8,344.9 836.0,332.8 836.2,347.0 836.5,337.7 836.8,344.0 837.0,335.9 837.2,342.2 837.5,336.7 837.8,340.5 838.0,335.9 838.2,341.5 838.5,331.9 838.8,340.2 839.0,335.6 839.2,342.9 839.5,333.4 839.8,339.6 840.0,332.1 840.2,343.0 840.5,330.6 840.8,346.8 841.0,335.9 841.2,340.3 841.5,330.5 841.8,339.9 842.0,330.7 842.2,339.1 842.5,333.6 842.8,342.7 843.0,334.5 843.2,339.9 843.5,330.3 843.8,338.9 844.0,332.1 844.2,336.9 844.5,332.9 844.8,337.1 845.0,330.4 845.2,336.4 845.5,328.7 845.8,338.5 846.0,332.3 846.2,334.6 846.5,331.5 846.8,336.4 847.0,330.5 847.2,336.1 847.5,328.9 847.8,336.1 848.0,328.4 848.2,332.7 848.5,327.0 848.8,335.8 849.0,329.2 849.2,333.6 849.5,330.3 849.8,335.0 850.0,325.8 850.2,336.2 850.5,329.9 850.8,333.0 851.0,327.9 851.2,332.7 851.5,329.2 851.8,335.7 852.0,326.9 852.2,333.6 852.5,330.3 852.8,334.4 853.0,328.6 853.2,332.4 853.5,325.7 853.8,335.6 854.0,329.4 854.2,336.1 854.5,333.5 854.8,338.9 855.0,331.7 855.2,346.9 855.5,337.2 855.8,344.7 856.0,336.9 856.2,341.9 856.5,334.8 856.8,341.6 857.0,335.9 857.2,339.3 857.5,331.1 857.8,339.6 858.0,330.5 858.2,345.8 858.5,333.0 858.8,342.0 859.0,334.9 859.2,341.1 859.5,336.0 859.8,343.5 860.0,335.7 860.2,343.2 860.5,337.0 860.8,341.3 861.0,335.6 861.2,341.1 861.5,331.7 861.8,345.9 862.0,337.6 862.2,345.6 862.5,335.6 862.8,341.9 863.0,335.8 863.2,340.4 863.5,336.2 863.8,341.8 864.0,337.0 864.2,345.1 864.5,335.9 864.8,341.0 865.0,335.9 865.2,341.4 865.5,331.7 865.8,347.0 866.0,334.7 866.2,343.1 866.5,337.0 866.8,343.1 867.0,337.6 867.2,346.0 867.5,340.2 867.8,344.4 868.0,340.1 868.2,346.9 868.5,337.2 868.8,350.6 869.0,340.9 869.2,348.2 869.5,342.3 869.8,349.1 870.0,342.1 870.2,346.5 870.5,342.8 870.8,347.6 871.0,342.6 871.2,350.5 871.5,342.9 871.8,349.0 872.0,343.8 872.2,347.6 872.5,341.3 872.8,348.3 873.0,340.0 873.2,352.2 873.5,345.4 873.8,348.8 874.0,344.0 874.2,350.0 874.5,341.5 874.8,348.7 875.0,343.0 875.2,348.3 875.5,343.0 875.8,348.1 876.0,341.0 876.2,350.7 876.5,340.0 876.8,355.6 877.0,345.4 877.2,350.6 877.5,345.1 877.8,349.6 878.0,345.1 878.2,349.4 878.5,344.2 878.8,351.3 879.0,343.3 879.2,351.5 879.5,344.3 879.8,347.7 880.0,340.0 880.2,351.7 880.5,342.2 880.8,348.4 881.0,343.4 881.2,349.3 881.5,339.7 881.8,350.6 882.0,343.8 882.2,348.5 882.5,342.7 882.8,347.2 883.0,343.8 883.2,350.4 883.5,337.7 883.8,350.5 884.0,342.4 884.2,345.9 884.5,337.9 884.8,346.6 885.0,341.9 885.2,346.3 885.5,341.0 885.8,346.6 886.0,341.1 886.2,349.5 886.5,341.2 886.8,346.8 887.0,340.5 887.2,344.0 887.5,334.9 887.8,349.4 888.0,335.4 888.2,347.3 888.5,337.5 888.8,345.1 889.0,337.0 889.2,346.2 889.5,335.7 889.8,346.4 890.0,338.7 890.2,346.9 890.5,339.4 890.8,344.8 891.0,339.2 891.2,346.8 891.5,336.0 891.8,344.1 892.0,335.3 892.2,349.4 892.5,337.4 892.8,344.6 893.0,340.6 893.2,344.8 893.5,340.0 893.8,346.1 894.0,339.4 894.2,349.6 894.5,342.0 894.8,346.5 895.0,342.5 895.2,346.4 895.5,342.9 895.8,346.0 896.0,343.0 896.2,347.9 896.5,338.7 896.8,350.6 897.0,342.7 897.2,346.6 897.5,342.4 897.8,346.9 898.0,341.8 898.2,346.8 898.5,343.0 898.8,346.6 899.0,341.6 899.2,346.3 899.5,339.3 899.8,348.2 900.0,341.7 900.2,349.3 900.5,338.4 900.8,346.3 901.0,341.0 901.2,349.0 901.5,339.4 901.8,345.0 902.0,336.5 902.2,351.8 902.5,340.7 902.8,346.3 903.0,341.0 903.2,347.4 903.5,341.5 903.8,346.3 904.0,341.5 904.2,346.6 904.5,340.1 904.8,348.0 905.0,343.4 905.2,350.9 905.5,340.1 905.8,346.5 906.0,337.6 906.2,352.9 906.5,342.9 906.8,348.1 907.0,342.4 907.2,349.2 907.5,343.4 907.8,348.6 908.0,341.0 908.2,352.5 908.5,343.9 908.8,350.3 909.0,345.5 909.2,351.0 909.5,339.8 909.8,357.6 910.0,345.4 910.2,350.8 910.5,343.9 910.8,351.0 911.0,345.6 911.2,354.7 911.5,343.0 911.8,351.2 912.0,343.7 912.2,351.9 912.5,341.6 912.8,350.7 913.0,341.0 913.2,352.0 913.5,342.0 913.8,354.2 914.0,338.9 914.2,355.1 914.5,343.7 914.8,351.3 915.0,343.8 915.2,353.5 915.5,344.8 915.8,350.0 916.0,344.6 916.2,350.0 916.5,340.2 916.8,346.1 917.0,340.0 917.2,351.7 917.5,340.2 917.8,348.9 918.0,340.7 918.2,350.7 918.5,342.7 918.8,347.4 919.0,341.6 919.2,345.8 919.5,341.4 919.8,345.1 920.0,339.6 920.2,348.0 920.5,334.2 920.8,350.6 921.0,338.8 921.2,346.4 921.5,341.3 921.8,348.1 922.0,338.6 922.2,346.3 922.5,338.8 922.8,344.4 923.0,337.0 923.2,346.2 923.5,340.7 923.8,345.0 924.0,337.7 924.2,346.3 924.5,341.9 924.8,349.4 925.0,337.4 925.2,351.7 925.5,338.5 925.8,351.1 926.0,338.8 926.2,347.4 926.5,340.6 926.8,348.8 927.0,344.9 927.2,350.9 927.5,343.7 927.8,350.0 928.0,342.4 928.2,349.2 928.5,343.4 928.8,352.0 929.0,343.5 929.2,350.2 929.5,346.1 929.8,354.7 930.0,338.8 930.2,355.3 930.5,342.9 930.8,349.8 931.0,342.0 931.2,349.2 931.5,341.9 931.8,352.7 932.0,344.1 932.2,351.8 932.5,344.4 932.8,349.9 933.0,344.0 933.2,347.9 933.5,342.3 933.8,347.4 934.0,337.7 934.2,353.0 934.5,341.2 934.8,348.2 935.0,341.4 935.2,350.1 935.5,345.3 935.8,353.7 936.0,343.2 936.2,349.8 936.5,346.9 936.8,352.1 937.0,345.4 937.2,356.8 937.5,347.0 937.8,356.2 938.0,346.9 938.2,355.6 938.5,341.2 938.8,358.5 939.0,341.8 939.2,356.2 939.5,347.4 939.8,354.4 940.0,347.4 940.2,353.1 940.5,346.3 940.8,351.6 941.0,347.7 941.2,350.9 941.5,342.3 941.8,349.4 942.0,341.2 942.2,353.6 942.5,340.6 942.8,348.8 943.0,340.1 943.2,352.9 943.5,342.0 943.8,349.5 944.0,343.0 944.2,351.0 944.5,343.7 944.8,347.9 945.0,343.9 945.2,348.0 945.5,340.4 945.8,347.8 946.0,341.4 946.2,346.9 946.5,341.5 946.8,348.1 947.0,342.8 947.2,347.9 947.5,343.2 947.8,347.9 948.0,341.0 948.2,346.9 948.5,341.5 948.8,346.7 949.0,337.7 949.2,351.7 949.5,337.8 949.8,348.7 950.0,341.0 950.2,349.7 950.5,338.2 950.8,348.5 951.0,340.1 951.2,350.0 951.5,341.8 951.8,346.7 952.0,338.4 952.2,347.0 952.5,340.7 952.8,347.4 953.0,340.5 953.2,349.1 953.5,339.5 953.8,345.0 954.0,337.8 954.2,344.3 954.5,334.1 954.8,349.5 955.0,339.6 955.2,344.8 955.5,337.7 955.8,349.1 956.0,337.9 956.2,344.6 956.5,335.8 956.8,349.1 957.0,336.1 957.2,347.8 957.5,340.0 957.8,346.1 958.0,341.8 958.2,347.4 958.5,342.6 958.8,347.0 959.0,338.5 959.2,350.5 959.5,342.7 959.8,347.2 960.0,337.6 960.2,351.5 960.5,343.9 960.8,347.0 961.0,341.5 961.2,347.1 961.5,339.6 961.8,344.1 962.0,340.5 962.2,344.9 962.5,337.9 962.8,349.3 963.0,337.2 963.2,343.6 963.5,334.5 963.8,345.5 964.0,335.7 964.2,343.4 964.5,333.1 964.8,348.1 965.0,338.0 965.2,342.3 965.5,334.3 965.8,343.8 966.0,334.0 966.2,345.2 966.5,338.7 966.8,342.3 967.0,339.0 967.2,342.4 967.5,335.9 967.8,345.5 968.0,335.7 968.2,342.2 968.5,339.0 968.8,344.4 969.0,337.7 969.2,341.1 969.5,335.2 969.8,344.4 970.0,338.1 970.2,341.4 970.5,334.1 970.8,342.0 971.0,333.6 971.2,342.2 971.5,333.8 971.8,339.7 972.0,334.4 972.2,338.3 972.5,332.7 972.8,339.9 973.0,330.7 973.2,336.9 973.5,333.2 973.8,337.5 974.0,332.1 974.2,337.5 974.5,333.0 974.8,336.5 975.0,331.8 975.2,335.6 975.5,327.0 975.8,339.8 976.0,329.0 976.2,336.8 976.5,330.8 976.8,335.0 977.0,332.3 977.2,337.9 977.5,330.6 977.8,337.4 978.0,332.8 978.2,337.6 978.5,332.5 978.8,336.0 979.0,332.4 979.2,338.7 979.5,334.2 979.8,336.8 980.0,331.5 980.2,338.6 980.5,332.5 980.8,337.4 981.0,333.3 981.2,335.7 981.5,331.4 981.8,335.6 982.0,333.0 982.2,335.7 982.5,330.2 982.8,335.0 983.0,331.4 983.2,335.8 983.5,331.1 983.8,334.3 984.0,331.2 984.2,334.8 984.5,331.5 984.8,334.3 985.0,330.7 985.2,334.0 985.5,327.0 985.8,336.3 986.0,328.3 986.2,334.5 986.5,330.7 986.8,333.8 987.0,329.9 987.2,332.0 987.5,328.5 987.8,334.4 988.0,328.8 988.2,333.2 988.5,329.6 988.8,333.5 989.0,329.7 989.2,334.3 989.5,330.0 989.8,333.3 990.0,325.8 990.2,336.3 990.5,329.8 990.8,333.2 991.0,328.8 991.2,332.6 991.5,329.9 991.8,333.1 992.0,329.2 992.2,334.3 992.5,329.8 992.8,332.5 993.0,328.4 993.2,335.1 993.5,329.6 993.8,332.8 994.0,329.9 994.2,334.0 994.5,329.9 994.8,332.7 995.0,330.5 995.2,332.5 995.5,329.7 995.8,333.7 996.0,331.0 996.2,333.3 996.5,331.3 996.8,333.4 997.0,331.0 997.2,332.8 997.5,331.2 997.8,332.4 998.0,329.3 998.2,334.0 998.5,329.8 998.8,333.2 999.0,330.4 999.2,333.1 999.5,329.8 999.8,333.1 1000.0,331.0 1000.2,332.7 1000.5,330.8 1000.8,334.1 1001.0,331.4 1001.2,333.9 1001.5,330.9 1001.8,334.1 1002.0,330.8 1002.2,333.0 1002.5,329.1 1002.8,334.2 1003.0,329.1 1003.2,337.1 1003.5,329.8 1003.8,335.1 1004.0,332.4 1004.2,336.7 1004.5,331.1 1004.8,338.1 1005.0,328.7 1005.2,338.7 1005.5,332.7 1005.8,337.0 1006.0,332.0 1006.2,337.5 1006.5,334.4 1006.8,339.7 1007.0,334.5 1007.2,339.6 1007.5,331.9 1007.8,342.5 1008.0,331.5 1008.2,345.0 1008.5,335.5 1008.8,339.0 1009.0,333.9 1009.2,341.2 1009.5,332.4 1009.8,336.7 1010.0,326.0 1010.2,339.1 1010.5,331.7 1010.8,339.1 1011.0,331.6 1011.2,337.4 1011.5,330.8 1011.8,338.4 1012.0,331.0 1012.2,339.5 1012.5,330.2 1012.8,337.3 1013.0,334.1 1013.2,339.7 1013.5,333.4 1013.8,339.8 1014.0,335.1 1014.2,338.0 1014.5,331.6 1014.8,342.5 1015.0,335.9 1015.2,340.0 1015.5,336.1 1015.8,339.4 1016.0,332.5 1016.2,339.5 1016.5,334.8 1016.8,341.4 1017.0,334.7 1017.2,339.0 1017.5,331.2 1017.8,338.9 1018.0,334.2 1018.2,338.9 1018.5,332.7 1018.8,338.2 1019.0,333.1 1019.2,338.9 1019.5,330.8 1019.8,338.8 1020.0,330.7 1020.2,338.2 1020.5,329.1 1020.8,341.3 1021.0,333.8 1021.2,338.9 1021.5,334.5 1021.8,339.1 1022.0,333.2 1022.2,340.4 1022.5,331.8 1022.8,339.0 1023.0,333.5 1023.2,339.3 1023.5,333.2 1023.8,337.9 1024.0,332.2 1024.2,340.3 1024.5,331.4 1024.8,341.0 1025.0,334.3 1025.2,339.3 1025.5,329.0 1025.8,341.2 1026.0,332.2 1026.2,337.6 1026.5,332.5 1026.8,335.8 1027.0,330.7 1027.2,339.8 1027.5,330.9 1027.8,337.1 1028.0,330.4 1028.2,335.3 1028.5,329.3 1028.8,336.1 1029.0,328.8 1029.2,332.8 1029.5,323.3 1029.8,338.9 1030.0,324.4 1030.2,335.4 1030.5,327.7 1030.8,335.1 1031.0,329.3 1031.2,337.9 1031.5,330.1 1031.8,339.5 1032.0,329.5 1032.2,335.6 1032.5,329.0 1032.8,335.4 1033.0,330.1 1033.2,337.7 1033.5,332.5 1033.8,338.9 1034.0,330.9 1034.2,336.5 1034.5,329.7 1034.8,339.3 1035.0,328.9 1035.2,341.4 1035.5,329.7 1035.8,336.8 1036.0,334.3 1036.2,339.3 1036.5,331.9 1036.8,339.6 1037.0,334.8 1037.2,340.5 1037.5,333.8 1037.8,338.4 1038.0,335.3 1038.2,339.5 1038.5,331.9 1038.8,342.4 1039.0,332.3 1039.2,339.4 1039.5,334.5 1039.8,337.9 1040.0,334.9 1040.2,341.6 1040.5,334.5 1040.8,338.8 1041.0,333.9 1041.2,338.9 1041.5,334.4 1041.8,340.7 1042.0,330.3 1042.2,341.3 1042.5,332.5 1042.8,338.0 1043.0,333.3 1043.2,337.2 1043.5,330.2 1043.8,340.2 1044.0,328.9 1044.2,336.0 1044.5,331.7 1044.8,336.7 1045.0,329.5 1045.2,335.9 1045.5,331.1 1045.8,335.8 1046.0,330.8 1046.2,335.0 1046.5,330.6 1046.8,335.1 1047.0,326.0 1047.2,339.2 1047.5,329.4 1047.8,337.2 1048.0,329.8 1048.2,337.1 1048.5,330.6 1048.8,338.0 1049.0,330.2 1049.2,339.1 1049.5,331.3 1049.8,337.0 1050.0,330.8 1050.2,338.8 1050.5,328.1 1050.8,340.9 1051.0,333.4 1051.2,340.2 1051.5,328.3 1051.8,343.6 1052.0,329.1 1052.2,336.1 1052.5,328.4 1052.8,336.5 1053.0,327.2 1053.2,335.3 1053.5,327.7 1053.8,337.5 1054.0,330.9 1054.2,335.0 1054.5,324.5 1054.8,338.9 1055.0,327.6 1055.2,333.9 1055.5,329.2 1055.8,335.8 1056.0,327.1 1056.2,336.5 1056.5,331.4 1056.8,335.2 1057.0,329.6 1057.2,334.3 1057.5,327.8 1057.8,337.8 1058.0,328.1 1058.2,334.5 1058.5,326.0 1058.8,335.0 1059.0,326.9 1059.2,333.2 1059.5,327.8 1059.8,333.4 1060.0,328.9 1060.2,335.4 1060.5,326.4 1060.8,334.4 1061.0,325.9 1061.2,338.9 1061.5,330.6 1061.8,335.4 1062.0,328.9 1062.2,335.4 1062.5,330.1 1062.8,338.1 1063.0,331.2 1063.2,334.3 1063.5,328.5 1063.8,335.9 1064.0,327.0 1064.2,333.9 1064.5,331.4 1064.8,334.6 1065.0,330.5 1065.2,340.6 1065.5,328.9 1065.8,338.6 1066.0,327.2 1066.2,341.3 1066.5,328.5 1066.8,335.8 1067.0,328.9 1067.2,336.6 1067.5,332.4 1067.8,337.7 1068.0,332.1 1068.2,338.1 1068.5,328.2 1068.8,341.0 1069.0,332.3 1069.2,338.3 1069.5,332.1 1069.8,337.3 1070.0,333.5 1070.2,337.1 1070.5,328.3 1070.8,341.3 1071.0,330.2 1071.2,336.3 1071.5,331.5 1071.8,340.1 1072.0,330.6 1072.2,339.3 1072.5,328.1 1072.8,334.8 1073.0,331.2 1073.2,339.6 1073.5,329.4 1073.8,339.0 1074.0,331.5 1074.2,335.2 1074.5,330.9 1074.8,336.4 1075.0,329.0 1075.2,337.8 1075.5,326.0 1075.8,340.1 1076.0,330.3 1076.2,335.3 1076.5,329.1 1076.8,337.5 1077.0,330.6 1077.2,335.5 1077.5,330.5 1077.8,335.5 1078.0,330.7 1078.2,334.2 1078.5,329.3 1078.8,335.7 1079.0,328.8 1079.2,334.1 1079.5,329.3 1079.8,336.0 1080.0,326.0 1080.2,338.9 1080.5,327.0 1080.8,334.5 1081.0,329.6 1081.2,335.2 1081.5,328.1 1081.8,334.6 1082.0,330.4 1082.2,335.0 1082.5,330.7 1082.8,336.0 1083.0,329.8 1083.2,335.6 1083.5,325.5 1083.8,333.4 1084.0,326.8 1084.2,333.2 1084.5,323.0 1084.8,337.8 1085.0,323.9 1085.2,333.2 1085.5,326.2 1085.8,332.9 1086.0,324.1 1086.2,332.9 1086.5,325.4 1086.8,333.7 1087.0,328.2 1087.2,333.5 1087.5,325.0 1087.8,336.9 1088.0,328.8 1088.2,336.4 1088.5,329.1 1088.8,337.9 1089.0,330.7 1089.2,336.2 1089.5,330.8 1089.8,335.0 1090.0,329.7 1090.2,338.0 1090.5,327.7 1090.8,335.2 1091.0,326.0 1091.2,340.2 1091.5,328.7 1091.8,336.8 1092.0,329.5 1092.2,335.4 1092.5,328.8 1092.8,339.3 1093.0,325.9 1093.2,336.5 1093.5,331.7 1093.8,341.3 1094.0,328.0 1094.2,338.7 1094.5,330.2 1094.8,335.9 1095.0,330.4 1095.2,339.1 1095.5,331.7 1095.8,337.5 1096.0,329.7 1096.2,339.6 1096.5,329.4 1096.8,340.1 1097.0,323.0 1097.2,343.7 1097.5,329.5 1097.8,337.8 1098.0,331.3 1098.2,341.6 1098.5,324.6 1098.8,338.7 1099.0,325.2 1099.2,336.3 1099.5,326.8 1099.8,342.2 1100.0,325.2 1100.2,336.4 1100.5,328.7 1100.8,340.4 1101.0,326.4 1101.2,335.7 1101.5,330.7 1101.8,340.6 1102.0,322.6 1102.2,336.7 1102.5,331.1 1102.8,341.8 1103.0,321.8 1103.2,343.6 1103.5,329.1 1103.8,335.4 1104.0,329.2 1104.2,339.5 1104.5,330.2 1104.8,336.7 1105.0,331.6 1105.2,339.8 1105.5,329.4 1105.8,338.5 1106.0,331.8 1106.2,341.3 1106.5,328.8 1106.8,337.4 1107.0,329.9 1107.2,337.6 1107.5,328.0 1107.8,342.5 1108.0,330.5 1108.2,341.8 1108.5,331.8 1108.8,336.0 1109.0,328.8 1109.2,340.5 1109.5,330.8 1109.8,339.5 1110.0,333.3 1110.2,340.3 1110.5,333.5 1110.8,338.7 1111.0,327.5 1111.2,338.6 1111.5,331.0 1111.8,338.5 1112.0,331.0 1112.2,338.8 1112.5,324.2 1112.8,343.4 1113.0,328.2 1113.2,339.8 1113.5,330.2 1113.8,335.6 1114.0,323.5 1114.2,332.0 1114.5,326.0 1114.8,334.4 1115.0,328.1 1115.2,334.2 1115.5,328.0 1115.8,338.9 1116.0,321.3 1116.2,339.0 1116.5,322.7 1116.8,336.6 1117.0,327.1 1117.2,335.0 1117.5,329.9 1117.8,336.2 1118.0,327.6 1118.2,340.2 1118.5,331.2 1118.8,337.2 1119.0,331.1 1119.2,340.3 1119.5,329.8 1119.8,336.9 1120.0,332.1 1120.2,340.7 1120.5,333.1 1120.8,340.9 1121.0,334.2 1121.2,338.9 1121.5,333.8 1121.8,340.0 1122.0,331.8 1122.2,343.6 1122.5,335.0 1122.8,340.2 1123.0,334.7 1123.2,339.1 1123.5,333.3 1123.8,339.2 1124.0,334.2 1124.2,340.6 1124.5,334.9 1124.8,340.2 1125.0,331.5 1125.2,339.0 1125.5,334.0 1125.8,340.8 1126.0,333.3 1126.2,338.6 1126.5,334.0 1126.8,337.8 1127.0,333.5 1127.2,339.3 1127.5,334.7 1127.8,337.8 1128.0,334.4 1128.2,338.5 1128.5,332.0 1128.8,338.3 1129.0,330.2 1129.2,341.3 1129.5,334.5 1129.8,339.5 1130.0,333.0 1130.2,337.9 1130.5,333.4 1130.8,337.5 1131.0,333.2 1131.2,336.0 1131.5,332.1 1131.8,337.4 1132.0,332.2 1132.2,336.8 1132.5,332.4 1132.8,336.0 1133.0,333.2 1133.2,335.7 1133.5,332.3 1133.8,337.2 1134.0,328.4 1134.2,339.0 1134.5,332.4 1134.8,336.5 1135.0,330.9 1135.2,335.4 1135.5,332.8 1135.8,336.9 1136.0,333.9 1136.2,337.1 1136.5,333.1 1136.8,335.8 1137.0,333.6 1137.2,337.1 1137.5,333.8 1137.8,336.6 1138.0,331.8 1138.2,340.0 1138.5,333.6 1138.8,336.9 1139.0,330.9 1139.2,335.5 1139.5,332.7 1139.8,335.7 1140.0,332.1 1140.2,335.5 1140.5,332.0 1140.8,334.4 1141.0,327.8 1141.2,333.7 1141.5,327.4 1141.8,334.0 1142.0,328.7 1142.2,334.5 1142.5,326.3 1142.8,332.4 1143.0,325.6 1143.2,329.7 1143.5,322.5 1143.8,334.5 1144.0,324.4 1144.2,331.2 1144.5,326.4 1144.8,335.5 1145.0,326.1 1145.2,332.6 1145.5,325.9 1145.8,336.2 1146.0,328.3 1146.2,334.0 1146.5,326.0 1146.8,338.6 1147.0,325.3 1147.2,334.9 1147.5,326.6 1147.8,333.6 1148.0,323.6 1148.2,334.6 1148.5,323.3 1148.8,331.0 1149.0,321.1 1149.2,337.3 1149.5,328.5 1149.8,335.0 1150.0,331.0 1150.2,341.5 1150.5,333.5 1150.8,339.0 1151.0,331.7 1151.2,341.2 1151.5,333.3 1151.8,337.4 1152.0,332.4 1152.2,338.1 1152.5,329.8 1152.8,337.2 1153.0,333.3 1153.2,338.1 1153.5,333.9 1153.8,341.2 1154.0,328.3 1154.2,337.1 1154.5,327.6 1154.8,341.5 1155.0,331.1 1155.2,338.3 1155.5,331.2 1155.8,337.2 1156.0,326.3 1156.2,335.5 1156.5,330.0 1156.8,337.5 1157.0,330.3 1157.2,335.5 1157.5,329.2 1157.8,334.2 1158.0,327.1 1158.2,333.7 1158.5,328.5 1158.8,337.0 1159.0,328.9 1159.2,339.9 1159.5,321.5 1159.8,340.2 1160.0,327.4 1160.2,333.8 1160.5,327.3 1160.8,334.6 1161.0,327.4 1161.2,333.6 1161.5,325.8 1161.8,331.7 1162.0,323.7 1162.2,336.1 1162.5,324.7 1162.8,332.7 1163.0,325.8 1163.2,334.2 1163.5,326.2 1163.8,337.1 1164.0,326.2 1164.2,332.8 1164.5,324.9 1164.8,331.5 1165.0,319.6 1165.2,336.6 1165.5,323.0 1165.8,332.2 1166.0,321.7 1166.2,335.4 1166.5,322.3 1166.8,335.5 1167.0,324.1 1167.2,329.3 1167.5,324.5 1167.8,335.2 1168.0,318.1 1168.2,335.9 1168.5,321.4 1168.8,334.6 1169.0,326.7 1169.2,333.3 1169.5,324.1 1169.8,333.5 1170.0,327.0 1170.2,332.4 1170.5,325.3 1170.8,334.2 1171.0,328.9 1171.2,333.1 1171.5,324.9 1171.8,333.3 1172.0,323.8 1172.2,339.0 1172.5,324.5 1172.8,334.0 1173.0,329.1 1173.2,333.0 1173.5,329.1 1173.8,332.7 1174.0,327.5 1174.2,334.7 1174.5,328.0 1174.8,336.1 1175.0,330.4 1175.2,333.7 1175.5,326.1 1175.8,336.7 1176.0,328.6 1176.2,336.3 1176.5,329.1 1176.8,336.0 1177.0,327.4 1177.2,332.8 1177.5,329.0 1177.8,335.0 1178.0,326.2 1178.2,332.5 1178.5,326.9 1178.8,331.7 1179.0,321.7 1179.2,335.6 1179.5,325.0 1179.8,329.0 1180.0,325.9 1180.2,331.1 1180.5,328.0 1180.8,330.5 1181.0,326.8 1181.2,333.8 1181.5,328.1 1181.8,336.8 1182.0,327.7 1182.2,334.8 1182.5,330.1 1182.8,336.0 1183.0,329.0 1183.2,338.6 1183.5,332.6 1183.8,338.1 1184.0,331.8 1184.2,336.1 1184.5,327.3 1184.8,341.6 1185.0,332.5 1185.2,336.2 1185.5,330.8 1185.8,336.6 1186.0,332.3 1186.2,337.0 1186.5,333.8 1186.8,340.4 1187.0,332.6 1187.2,339.8 1187.5,335.1 1187.8,342.7 1188.0,330.9 1188.2,344.0 1188.5,335.7 1188.8,340.1 1189.0,336.2 1189.2,342.4 1189.5,335.6 1189.8,342.5 1190.0,332.3 1190.2,340.8 1190.5,333.9 1190.8,343.6 1191.0,336.0 1191.2,341.6 1191.5,335.2 1191.8,342.0 1192.0,333.9 1192.2,344.4 1192.5,336.5 1192.8,342.5 1193.0,333.4 1193.2,345.9 1193.5,334.4 1193.8,342.0 1194.0,337.8 1194.2,340.4 1194.5,335.4 1194.8,343.3 1195.0,335.9 1195.2,340.0 1195.5,335.8 1195.8,342.0 1196.0,335.8 1196.2,339.5 1196.5,335.6 1196.8,338.8 1197.0,336.7 1197.2,340.7 1197.5,333.4 1197.8,340.3 1198.0,335.4 1198.2,339.3 1198.5,334.3 1198.8,338.1 1199.0,332.7 1199.2,336.8 1199.5,331.3 1199.8,334.7 1200.0,331.8 1200.2,337.7 1200.5,328.5 1200.8,335.3 1201.0,329.9 1201.2,334.1 1201.5,324.1 1201.8,338.0 1202.0,327.8 1202.2,333.7 1202.5,327.4 1202.8,336.5 1203.0,330.1 1203.2,339.1 1203.5,329.8 1203.8,339.1 1204.0,329.9 1204.2,335.8 1204.5,330.9 1204.8,336.6 1205.0,332.4 1205.2,337.3 1205.5,334.0 1205.8,339.8 1206.0,335.1 1206.2,341.6 1206.5,331.7 1206.8,339.0 1207.0,330.7 1207.2,343.9 1207.5,330.8 1207.8,337.9 1208.0,333.4 1208.2,338.3 1208.5,332.8 1208.8,339.1 1209.0,331.1 1209.2,336.7 1209.5,330.5 1209.8,337.3 1210.0,328.7 1210.2,334.8 1210.5,324.7 1210.8,333.0 1211.0,323.5 1211.2,331.2 1211.5,320.0 1211.8,329.7 1212.0,323.8 1212.2,329.4 1212.5,321.4 1212.8,327.6 1213.0,315.4 1213.2,332.1 1213.5,317.7 1213.8,328.0 1214.0,319.0 1214.2,327.4 1214.5,322.7 1214.8,330.3 1215.0,324.4 1215.2,330.4 1215.5,325.8 1215.8,329.4 1216.0,324.3 1216.2,331.4 1216.5,323.2 1216.8,336.7 1217.0,326.9 1217.2,333.2 1217.5,328.2 1217.8,333.6 1218.0,328.6 1218.2,335.0 1218.5,329.1 1218.8,334.7 1219.0,326.1 1219.2,340.2 1219.5,331.7 1219.8,336.9 1220.0,328.6 1220.2,335.4 1220.5,328.8 1220.8,336.4 1221.0,327.0 1221.2,333.8 1221.5,330.1 1221.8,333.8 1222.0,329.4 1222.2,335.0 1222.5,323.4 1222.8,336.8 1223.0,328.7 1223.2,332.6 1223.5,328.8 1223.8,333.3 1224.0,328.8 1224.2,334.2 1224.5,330.5 1224.8,332.4 1225.0,329.9 1225.2,334.8 1225.5,331.2 1225.8,334.5 1226.0,332.0 1226.2,335.7 1226.5,332.6 1226.8,335.5 1227.0,333.1 1227.2,338.8 1227.5,331.0 1227.8,339.3 1228.0,333.6 1228.2,339.0 1228.5,332.6 1228.8,337.9 1229.0,332.7 1229.2,336.8 1229.5,333.2 1229.8,336.6 1230.0,332.5 1230.2,337.6 1230.5,334.3 1230.8,337.7 1231.0,335.5 1231.2,338.4 1231.5,334.4 1231.8,341.1 1232.0,333.3 1232.2,341.5 1232.5,336.4 1232.8,341.4 1233.0,336.2 1233.2,339.4 1233.5,336.1 1233.8,339.8 1234.0,335.9 1234.2,339.5 1234.5,338.2 1234.8,342.0 1235.0,338.8 1235.2,341.8 1235.5,338.2 1235.8,342.9 1236.0,339.1 1236.2,342.0 1236.5,339.1 1236.8,344.1 1237.0,336.9 1237.2,345.4 1237.5,339.4 1237.8,344.8 1238.0,339.6 1238.2,343.3 1238.5,339.3 1238.8,344.6 1239.0,339.4 1239.2,345.6 1239.5,340.2 1239.8,344.3 1240.0,339.0 1240.2,345.4 1240.5,335.8 1240.8,349.8 1241.0,339.9 1241.2,344.0 1241.5,338.8 1241.8,342.9 1242.0,339.2 1242.2,342.9 1242.5,336.8 1242.8,345.2 1243.0,337.9 1243.2,343.5 1243.5,340.4 1243.8,345.1 1244.0,340.6 1244.2,344.6 1244.5,336.8 1244.8,345.7 1245.0,338.4 1245.2,345.1 1245.5,335.5 1245.8,345.8 1246.0,334.7 1246.2,341.8 1246.5,336.0 1246.8,340.5 1247.0,335.2 1247.2,341.6 1247.5,334.3 1247.8,339.5 1248.0,335.4 1248.2,341.1 1248.5,333.3 1248.8,338.6 1249.0,332.0 1249.2,338.2 1249.5,330.4 1249.8,337.7 1250.0,325.4 1250.2,340.3 1250.5,329.5 1250.8,335.8 1251.0,329.1 1251.2,332.8 1251.5,325.6 1251.8,336.4 1252.0,329.4 1252.2,334.8 1252.5,325.5 1252.8,332.6 1253.0,317.5 1253.2,331.7 1253.5,315.5 1253.8,339.2 1254.0,325.2 1254.2,336.2 1254.5,322.8 1254.8,332.3 1255.0,323.4 1255.2,337.9 1255.5,325.3 1255.8,334.5 1256.0,327.4 1256.2,333.7 1256.5,327.9 1256.8,335.2 1257.0,324.2 1257.2,342.7 1257.5,327.0 1257.8,340.0 1258.0,326.9 1258.2,338.9 1258.5,327.9 1258.8,337.5 1259.0,334.7 1259.2,340.5 1259.5,333.4 1259.8,341.0 1260.0,336.3 1260.2,342.3 1260.5,333.7 1260.8,341.3 1261.0,334.7 1261.2,341.4 1261.5,336.3 1261.8,347.9 1262.0,338.7 1262.2,348.5 1262.5,339.6 1262.8,344.9 1263.0,333.0 1263.2,351.0 1263.5,339.9 1263.8,347.8 1264.0,337.5 1264.2,342.9 1264.5,337.5 1264.8,343.5 1265.0,336.6 1265.2,343.5 1265.5,337.5 1265.8,346.2 1266.0,338.9 1266.2,347.7 1266.5,338.2 1266.8,343.1 1267.0,338.8 1267.2,346.7 1267.5,338.5 1267.8,345.2 1268.0,333.4 1268.2,346.2 1268.5,338.0 1268.8,342.6 1269.0,338.2 1269.2,342.0 1269.5,332.6 1269.8,344.8 1270.0,333.2 1270.2,339.6 1270.5,334.1 1270.8,339.3 1271.0,333.4 1271.2,339.7 1271.5,327.6 1271.8,343.8 1272.0,330.1 1272.2,338.0 1272.5,326.2 1272.8,337.6 1273.0,328.8 1273.2,339.3 1273.5,327.4 1273.8,334.0 1274.0,326.6 1274.2,335.4 1274.5,321.8 1274.8,337.0 1275.0,318.0 1275.2,338.0 1275.5,315.8 1275.8,339.2 1276.0,325.9 1276.2,333.8 1276.5,324.1 1276.8,334.8 1277.0,318.2 1277.2,338.0 1277.5,321.5 1277.8,334.5 1278.0,317.7 1278.2,339.1 1278.5,317.8 1278.8,329.9 1279.0,322.9 1279.2,334.1 1279.5,317.6 1279.8,331.3 1280.0,322.4 1280.2,333.6 1280.5,312.9 1280.8,327.9 1281.0,300.9 1281.2,339.0 1281.5,313.1 1281.8,335.0 1282.0,307.7 1282.2,326.6 1282.5,316.0 1282.8,331.4 1283.0,316.9 1283.2,325.0 1283.5,322.5 1283.8,330.7 1284.0,322.1 1284.2,333.1 1284.5,323.7 1284.8,329.8 1285.0,324.2 1285.2,328.9 1285.5,326.1 1285.8,330.9 1286.0,323.5 1286.2,333.8 1286.5,327.3 1286.8,334.0 1287.0,329.2 1287.2,335.6 1287.5,330.0 1287.8,338.2 1288.0,330.0 1288.2,344.8 1288.5,335.2 1288.8,339.7 1289.0,331.6 1289.2,338.8 1289.5,332.1 1289.8,340.5 1290.0,334.4 1290.2,337.6 1290.5,332.4 1290.8,337.5 1291.0,331.9 1291.2,335.7 1291.5,329.9 1291.8,337.9 1292.0,327.7 1292.2,338.8 1292.5,331.8 1292.8,337.0 1293.0,333.5 1293.2,338.2 1293.5,334.6 1293.8,338.4 1294.0,334.8 1294.2,341.5 1294.5,332.7 1294.8,344.8 1295.0,337.7 1295.2,343.4 1295.5,334.8 1295.8,339.7 1296.0,335.0 1296.2,341.8 1296.5,330.5 1296.8,339.4 1297.0,329.4 1297.2,336.2 1297.5,328.1 1297.8,340.5 1298.0,332.3 1298.2,336.8 1298.5,330.7 1298.8,334.3 1299.0,329.2 1299.2,332.7 1299.5,327.8 1299.8,332.4 1300.0,327.5 1300.2,332.9 1300.5,325.8 1300.8,330.9 1301.0,324.6 1301.2,331.0 1301.5,325.0 1301.8,329.6 1302.0,319.1 1302.2,330.8 1302.5,322.9" stroke="#ff0000" stroke-width="1.39"/>
<line x1="139.50" y1="612.9" x2="1302.50" y2="612.9" stroke="#008000" stroke-width="7.8"/>
<polyline points="139.5,312.1 139.8,323.9 140.1,318.1 140.4,323.9 140.7,306.2 141.0,329.9 141.3,306.2 141.6,326.9 141.9,315.1 142.2,321.0 142.5,312.1 142.8,321.0 143.1,312.1 143.4,321.0 143.7,315.1 144.0,309.2 144.3,306.2 144.6,321.0 144.9,315.1 145.2,326.9 145.5,312.1 145.8,323.9 146.1,315.1 146.4,321.0 146.7,306.2 147.0,329.9 147.3,312.1 147.6,321.0 147.9,321.0 148.2,321.0 148.5,323.9 148.8,318.1 149.1,306.2 149.4,321.0 149.7,315.1 150.0,323.9 150.3,309.2 150.6,323.9 150.9,309.2 151.2,329.9 151.5,315.1 151.8,321.0 152.1,315.1 152.4,323.9 152.7,306.2 153.0,332.8 153.3,318.1 153.6,315.1 153.9,318.1 154.2,323.9 154.5,323.9 154.8,326.9 155.1,326.9 155.4,332.8 155.7,318.1 156.0,329.9 156.3,332.8 156.6,335.8 156.9,321.0 157.2,326.9 157.5,321.0 157.8,338.7 158.1,318.1 158.4,329.9 158.7,309.2 159.0,341.6 159.3,321.0 159.6,332.8 159.9,318.1 160.2,323.9 160.5,326.9 160.8,329.9 161.1,315.1 161.4,326.9 161.7,323.9 162.0,326.9 162.3,315.1 162.6,329.9 162.9,321.0 163.2,323.9 163.5,323.9 163.8,323.9 164.1,321.0 164.4,321.0 164.7,312.1 165.0,321.0 165.3,309.2 165.6,323.9 165.9,303.3 166.2,332.8 166.5,309.2 166.8,326.9 167.1,309.2 167.4,318.1 167.7,318.1 168.0,326.9 168.3,306.2 168.6,315.1 168.9,312.1 169.2,309.2 169.5,312.1 169.8,312.1 170.1,318.1 170.4,332.8 170.7,321.0 171.0,329.9 171.3,321.0 171.6,326.9 171.9,309.2 172.2,335.8 172.5,321.0 172.8,329.9 173.1,312.1 173.4,321.0 173.7,321.0 174.0,329.9 174.3,323.9 174.6,326.9 174.9,329.9 175.2,329.9 175.5,318.1 175.8,341.6 176.1,326.9 176.4,338.7 176.7,323.9 177.0,329.9 177.3,323.9 177.6,332.8 177.9,318.1 178.2,323.9 178.5,315.1 178.8,321.0 179.1,309.2 179.4,332.8 179.7,315.1 180.0,326.9 180.3,318.1 180.6,323.9 180.9,309.2 181.2,321.0 181.5,321.0 181.8,326.9 182.1,321.0 182.4,326.9 182.7,321.0 183.0,329.9 183.3,329.9 183.6,323.9 183.9,315.1 184.2,323.9 184.5,309.2 184.8,335.8 185.1,315.1 185.4,321.0 185.7,323.9 186.0,329.9 186.3,329.9 186.6,341.6 186.9,332.8 187.2,344.6 187.5,335.8 187.8,350.5 188.1,350.5 188.4,347.6 188.7,338.7 189.0,350.5 189.3,341.6 189.6,356.4 189.9,338.7 190.2,362.3 190.5,344.6 190.8,356.4 191.1,347.6 191.4,338.7 191.7,347.6 192.0,347.6 192.3,332.8 192.6,353.4 192.9,329.9 193.2,353.4 193.5,338.7 193.8,344.6 194.1,335.8 194.4,350.5 194.7,332.8 195.0,344.6 195.3,335.8 195.6,341.6 195.9,344.6 196.2,344.6 196.5,341.6 196.8,347.6 197.1,318.1 197.4,338.7 197.7,318.1 198.0,332.8 198.3,315.1 198.6,347.6 198.9,323.9 199.2,335.8 199.5,335.8 199.8,335.8 200.1,332.8 200.4,332.8 200.7,326.9 201.0,323.9 201.3,326.9 201.6,332.8 201.9,318.1 202.2,341.6 202.5,329.9 202.8,335.8 203.1,326.9 203.4,335.8 203.7,329.9 204.0,329.9 204.3,323.9 204.6,335.8 204.9,323.9 205.2,338.7 205.5,323.9 205.8,350.5 206.1,329.9 206.4,338.7 206.7,326.9 207.0,335.8 207.3,326.9 207.6,341.6 207.9,323.9 208.2,338.7 208.5,312.1 208.8,335.8 209.1,318.1 209.4,321.0 209.7,309.2 210.0,321.0 210.3,309.2 210.6,321.0 210.9,312.1 211.2,323.9 211.5,315.1 211.8,309.2 212.1,300.4 212.4,332.8 212.7,300.4 213.0,303.3 213.3,300.4 213.6,312.1 213.9,303.3 214.2,321.0 214.5,303.3 214.8,318.1 215.1,312.1 215.4,312.1 215.7,300.4 216.0,315.1 216.3,288.6 216.6,318.1 216.9,288.6 217.2,306.2 217.5,297.4 217.8,315.1 218.1,300.4 218.4,288.6 218.7,294.4 219.0,315.1 219.3,291.5 219.6,306.2 219.9,285.6 220.2,315.1 220.5,297.4 220.8,297.4 221.1,300.4 221.4,303.3 221.7,294.4 222.0,303.3 222.3,291.5 222.6,306.2 222.9,285.6 223.2,312.1 223.5,291.5 223.8,297.4 224.1,288.6 224.4,312.1 224.7,306.2 225.0,300.4 225.3,282.6 225.6,312.1 225.9,282.6 226.2,315.1 226.5,291.5 226.8,300.4 227.1,291.5 227.4,306.2 227.7,300.4 228.0,312.1 228.3,303.3 228.6,312.1 228.9,297.4 229.2,321.0 229.5,309.2 229.8,306.2 230.1,306.2 230.4,312.1 230.7,318.1 231.0,321.0 231.3,326.9 231.6,323.9 231.9,315.1 232.2,318.1 232.5,309.2 232.8,335.8 233.1,323.9 233.4,335.8 233.7,318.1 234.0,335.8 234.3,315.1 234.6,329.9 234.9,323.9 235.2,321.0 235.5,321.0 235.8,338.7 236.1,318.1 236.4,341.6 236.7,323.9 237.0,332.8 237.3,321.0 237.6,332.8 237.9,326.9 238.2,332.8 238.5,323.9 238.8,335.8 239.1,326.9 239.4,338.7 239.7,329.9 240.0,326.9 240.3,323.9 240.6,323.9 240.9,323.9 241.2,341.6 241.5,335.8 241.8,335.8 242.1,329.9 242.4,329.9 242.7,329.9 243.0,332.8 243.3,323.9 243.6,326.9 243.9,329.9 244.2,344.6 244.5,335.8 244.8,341.6 245.1,329.9 245.4,332.8 245.7,326.9 246.0,347.6 246.3,338.7 246.6,335.8 246.9,329.9 247.2,335.8 247.5,326.9 247.8,338.7 248.1,332.8 248.4,338.7 248.7,332.8 249.0,332.8 249.3,323.9 249.6,335.8 249.9,323.9 250.2,332.8 250.5,315.1 250.8,335.8 251.1,323.9 251.4,335.8 251.7,332.8 252.0,335.8 252.3,323.9 252.6,338.7 252.9,326.9 253.2,332.8 253.5,321.0 253.8,329.9 254.1,315.1 254.4,341.6 254.7,321.0 255.0,318.1 255.3,315.1 255.6,318.1 255.9,323.9 256.2,321.0 256.5,312.1 256.8,329.9 257.1,321.0 257.4,321.0 257.7,321.0 258.0,326.9 258.3,315.1 258.6,321.0 258.9,323.9 259.2,318.1 259.5,321.0 259.8,323.9 260.1,309.2 260.4,329.9 260.7,312.1 261.0,321.0 261.3,315.1 261.6,321.0 261.9,309.2 262.2,318.1 262.5,309.2 262.8,318.1 263.1,303.3 263.4,315.1 263.7,309.2 264.0,309.2 264.3,303.3 264.6,306.2 264.9,300.4 265.2,312.1 265.5,303.3 265.8,315.1 266.1,291.5 266.4,318.1 266.7,297.4 267.0,303.3 267.3,300.4 267.6,315.1 267.9,303.3 268.2,315.1 268.5,300.4 268.8,312.1 269.1,306.2 269.4,315.1 269.7,303.3 270.0,312.1 270.3,294.4 270.6,303.3 270.9,294.4 271.2,315.1 271.5,291.5 271.8,318.1 272.1,297.4 272.4,315.1 272.7,303.3 273.0,318.1 273.3,300.4 273.6,294.4 273.9,294.4 274.2,309.2 274.5,297.4 274.8,315.1 275.1,297.4 275.4,309.2 275.7,297.4 276.0,306.2 276.3,288.6 276.6,300.4 276.9,297.4 277.2,306.2 277.5,288.6 277.8,294.4 278.1,285.6 278.4,318.1 278.7,300.4 279.0,309.2 279.3,297.4 279.6,309.2 279.9,303.3 280.2,312.1 280.5,297.4 280.8,315.1 281.1,306.2 281.4,321.0 281.7,303.3 282.0,323.9 282.3,306.2 282.6,315.1 282.9,291.5 283.2,323.9 283.5,297.4 283.8,291.5 284.1,294.4 284.4,312.1 284.7,309.2 285.0,312.1 285.3,297.4 285.6,306.2 285.9,306.2 286.2,306.2 286.5,276.8 286.8,312.1 287.1,294.4 287.4,297.4 287.7,288.6 288.0,303.3 288.3,303.3 288.6,300.4 288.9,291.5 289.2,303.3 289.5,297.4 289.8,306.2 290.1,297.4 290.4,321.0 290.7,294.4 291.0,297.4 291.3,294.4 291.6,306.2 291.9,285.6 292.2,309.2 292.5,300.4 292.8,303.3 293.1,276.8 293.4,315.1 293.7,285.6 294.0,306.2 294.3,288.6 294.6,309.2 294.9,297.4 295.2,309.2 295.5,294.4 295.8,309.2 296.1,312.1 296.4,312.1 296.7,291.5 297.0,318.1 297.3,309.2 297.6,306.2 297.9,294.4 298.2,318.1 298.5,312.1 298.8,318.1 299.1,297.4 299.4,309.2 299.7,285.6 300.0,318.1 300.3,297.4 300.6,315.1 300.9,318.1 301.2,321.0 301.5,315.1 301.8,306.2 302.1,309.2 302.4,321.0 302.7,309.2 303.0,323.9 303.3,315.1 303.6,321.0 303.9,312.1 304.2,321.0 304.5,315.1 304.8,315.1 305.1,312.1 305.4,323.9 305.7,315.1 306.0,315.1 306.3,300.4 306.6,329.9 306.9,318.1 307.2,315.1 307.5,306.2 307.8,321.0 308.1,306.2 308.4,315.1 308.7,303.3 309.0,323.9 309.3,303.3 309.6,329.9 309.9,312.1 310.2,315.1 310.5,315.1 310.8,321.0 311.1,312.1 311.4,323.9 311.7,300.4 312.0,321.0 312.3,306.2 312.6,321.0 312.9,306.2 313.2,326.9 313.5,291.5 313.8,329.9 314.1,306.2 314.4,318.1 314.7,318.1 315.0,326.9 315.3,318.1 315.6,321.0 315.9,306.2 316.2,321.0 316.5,321.0 316.8,329.9 317.1,315.1 317.4,341.6 317.7,323.9 318.0,318.1 318.3,318.1 318.6,326.9 318.9,321.0 319.2,329.9 319.5,321.0 319.8,323.9 320.1,315.1 320.4,341.6 320.7,323.9 321.0,338.7 321.3,326.9 321.6,332.8 321.9,332.8 322.2,329.9 322.5,321.0 322.8,332.8 323.1,318.1 323.4,341.6 323.7,326.9 324.0,332.8 324.3,338.7 324.6,335.8 324.9,326.9 325.2,341.6 325.5,332.8 325.8,338.7 326.1,323.9 326.4,341.6 326.7,329.9 327.0,338.7 327.3,332.8 327.6,338.7 327.9,329.9 328.2,338.7 328.5,323.9 328.8,323.9 329.1,323.9 329.4,338.7 329.7,329.9 330.0,338.7 330.3,321.0 330.6,341.6 330.9,329.9 331.2,332.8 331.5,323.9 331.8,335.8 332.1,321.0 332.4,332.8 332.7,326.9 333.0,335.8 333.3,326.9 333.6,335.8 333.9,326.9 334.2,329.9 334.5,315.1 334.8,335.8 335.1,321.0 335.4,318.1 335.7,315.1 336.0,321.0 336.3,321.0 336.6,318.1 336.9,315.1 337.2,321.0 337.5,318.1 337.8,326.9 338.1,306.2 338.4,329.9 338.7,312.1 339.0,312.1 339.3,315.1 339.6,326.9 339.9,312.1 340.2,321.0 340.5,315.1 340.8,321.0 341.1,318.1 341.4,323.9 341.7,318.1 342.0,323.9 342.3,312.1 342.6,329.9 342.9,321.0 343.2,329.9 343.5,321.0 343.8,326.9 344.1,315.1 344.4,326.9 344.7,315.1 345.0,326.9 345.3,321.0 345.6,323.9 345.9,303.3 346.2,332.8 346.5,312.1 346.8,329.9 347.1,312.1 347.4,326.9 347.7,312.1 348.0,329.9 348.3,315.1 348.6,315.1 348.9,318.1 349.2,329.9 349.5,318.1 349.8,335.8 350.1,321.0 350.4,326.9 350.7,315.1 351.0,329.9 351.3,326.9 351.6,326.9 351.9,315.1 352.2,318.1 352.5,315.1 352.8,323.9 353.1,312.1 353.4,323.9 353.7,323.9 354.0,329.9 354.3,309.2 354.6,329.9 354.9,309.2 355.2,326.9 355.5,329.9 355.8,329.9 356.1,315.1 356.4,323.9 356.7,321.0 357.0,323.9 357.3,312.1 357.6,321.0 357.9,312.1 358.2,321.0 358.5,321.0 358.8,323.9 359.1,312.1 359.4,321.0 359.7,303.3 360.0,329.9 360.3,309.2 360.6,318.1 360.9,315.1 361.2,323.9 361.5,326.9 361.8,326.9 362.1,329.9 362.4,318.1 362.7,309.2 363.0,329.9 363.3,315.1 363.6,318.1 363.9,315.1 364.2,321.0 364.5,315.1 364.8,321.0 365.1,315.1 365.4,321.0 365.7,315.1 366.0,323.9 366.3,303.3 366.6,326.9 366.9,306.2 367.2,321.0 367.5,315.1 367.8,321.0 368.1,309.2 368.4,323.9 368.7,309.2 369.0,323.9 369.3,309.2 369.6,318.1 369.9,309.2 370.2,309.2 370.5,309.2 370.8,318.1 371.1,303.3 371.4,326.9 371.7,306.2 372.0,306.2 372.3,315.1 372.6,323.9 372.9,309.2 373.2,323.9 373.5,318.1 373.8,321.0 374.1,312.1 374.4,318.1 374.7,309.2 375.0,323.9 375.3,303.3 375.6,326.9 375.9,312.1 376.2,321.0 376.5,312.1 376.8,312.1 377.1,309.2 377.4,321.0 377.7,303.3 378.0,326.9 378.3,309.2 378.6,315.1 378.9,303.3 379.2,329.9 379.5,312.1 379.8,323.9 380.1,309.2 380.4,318.1 380.7,309.2 381.0,321.0 381.3,306.2 381.6,315.1 381.9,315.1 382.2,326.9 382.5,309.2 382.8,329.9 383.1,321.0 383.4,323.9 383.7,318.1 384.0,326.9 384.3,318.1 384.6,329.9 384.9,312.1 385.2,323.9 385.5,309.2 385.8,329.9 386.1,312.1 386.4,318.1 386.7,312.1 387.0,321.0 387.3,318.1 387.6,323.9 387.9,312.1 388.2,321.0 388.5,315.1 388.8,323.9 389.1,309.2 389.4,329.9 389.7,315.1 390.0,323.9 390.3,312.1 390.6,321.0 390.9,323.9 391.2,323.9 391.5,312.1 391.8,321.0 392.1,303.3 392.4,326.9 392.7,309.2 393.0,318.1 393.3,326.9 393.6,329.9 393.9,312.1 394.2,321.0 394.5,315.1 394.8,318.1 395.1,315.1 395.4,326.9 395.7,309.2 396.0,335.8 396.3,315.1 396.6,321.0 396.9,318.1 397.2,326.9 397.5,321.0 397.8,329.9 398.1,326.9 398.4,326.9 398.7,309.2 399.0,329.9 399.3,309.2 399.6,326.9 399.9,318.1 400.2,321.0 400.5,312.1 400.8,326.9 401.1,329.9 401.4,321.0 401.7,312.1 402.0,323.9 402.3,309.2 402.6,329.9 402.9,318.1 403.2,321.0 403.5,312.1 403.8,323.9 404.1,321.0 404.4,326.9 404.7,318.1 405.0,329.9 405.3,321.0 405.6,321.0 405.9,318.1 406.2,329.9 406.5,321.0 406.8,329.9 407.1,326.9 407.4,326.9 407.7,323.9 408.0,326.9 408.3,323.9 408.6,323.9 408.9,321.0 409.2,326.9 409.5,326.9 409.8,329.9 410.1,318.1 410.4,326.9 410.7,315.1 411.0,329.9 411.3,318.1 411.6,329.9 411.9,323.9 412.2,323.9 412.5,323.9 412.8,326.9 413.1,326.9 413.4,332.8 413.7,321.0 414.0,338.7 414.3,323.9 414.6,329.9 414.9,323.9 415.2,321.0 415.5,318.1 415.8,326.9 416.1,321.0 416.4,329.9 416.7,321.0 417.0,318.1 417.3,326.9 417.6,323.9 417.9,315.1 418.2,329.9 418.5,318.1 418.8,329.9 419.1,323.9 419.4,326.9 419.7,321.0 420.0,329.9 420.3,318.1 420.6,323.9 420.9,315.1 421.2,326.9 421.5,312.1 421.8,329.9 422.1,315.1 422.4,323.9 422.7,318.1 423.0,315.1 423.3,318.1 423.6,326.9 423.9,318.1 424.2,323.9 424.5,321.0 424.8,332.8 425.1,329.9 425.4,329.9 425.7,318.1 426.0,332.8 426.3,329.9 426.6,326.9 426.9,329.9 427.2,329.9 427.5,321.0 427.8,329.9 428.1,326.9 428.4,335.8 428.7,326.9 429.0,329.9 429.3,321.0 429.6,338.7 429.9,326.9 430.2,332.8 430.5,329.9 430.8,329.9 431.1,335.8 431.4,332.8 431.7,335.8 432.0,335.8 432.3,323.9 432.6,341.6 432.9,323.9 433.2,332.8 433.5,326.9 433.8,335.8 434.1,338.7 434.4,338.7 434.7,332.8 435.0,338.7 435.3,329.9 435.6,341.6 435.9,321.0 436.2,344.6 436.5,335.8 436.8,341.6 437.1,332.8 437.4,341.6 437.7,326.9 438.0,347.6 438.3,329.9 438.6,338.7 438.9,338.7 439.2,335.8 439.5,332.8 439.8,338.7 440.1,329.9 440.4,335.8 440.7,326.9 441.0,338.7 441.3,329.9 441.6,335.8 441.9,326.9 442.2,335.8 442.5,329.9 442.8,329.9 443.1,326.9 443.4,332.8 443.7,329.9 444.0,338.7 444.3,332.8 444.6,332.8 444.9,326.9 445.2,341.6 445.5,332.8 445.8,341.6 446.1,335.8 446.4,338.7 446.7,326.9 447.0,335.8 447.3,329.9 447.6,335.8 447.9,329.9 448.2,338.7 448.5,326.9 448.8,326.9 449.1,326.9 449.4,335.8 449.7,321.0 450.0,341.6 450.3,329.9 450.6,338.7 450.9,329.9 451.2,332.8 451.5,326.9 451.8,335.8 452.1,326.9 452.4,338.7 452.7,323.9 453.0,332.8 453.3,323.9 453.6,329.9 453.9,321.0 454.2,335.8 454.5,321.0 454.8,329.9 455.1,323.9 455.4,329.9 455.7,321.0 456.0,329.9 456.3,329.9 456.6,332.8 456.9,326.9 457.2,329.9 457.5,321.0 457.8,326.9 458.1,315.1 458.4,335.8 458.7,318.1 459.0,326.9 459.3,321.0 459.6,329.9 459.9,318.1 460.2,326.9 460.5,323.9 460.8,332.8 461.1,323.9 461.4,338.7 461.7,323.9 462.0,332.8 462.3,321.0 462.6,341.6 462.9,326.9 463.2,323.9 463.5,323.9 463.8,329.9 464.1,321.0 464.4,332.8 464.7,321.0 465.0,321.0 465.3,323.9 465.6,329.9 465.9,315.1 466.2,335.8 466.5,335.8 466.8,335.8 467.1,321.0 467.4,338.7 467.7,321.0 468.0,329.9 468.3,318.1 468.6,338.7 468.9,329.9 469.2,332.8 469.5,323.9 469.8,332.8 470.1,323.9 470.4,335.8 470.7,321.0 471.0,341.6 471.3,326.9 471.6,335.8 471.9,329.9 472.2,338.7 472.5,323.9 472.8,335.8 473.1,329.9 473.4,335.8 473.7,329.9 474.0,329.9 474.3,318.1 474.6,338.7 474.9,323.9 475.2,329.9 475.5,323.9 475.8,335.8 476.1,323.9 476.4,332.8 476.7,321.0 477.0,335.8 477.3,323.9 477.6,338.7 477.9,326.9 478.2,332.8 478.5,326.9 478.8,332.8 479.1,321.0 479.4,341.6 479.7,323.9 480.0,329.9 480.3,326.9 480.6,332.8 480.9,323.9 481.2,321.0 481.5,321.0 481.8,335.8 482.1,321.0 482.4,341.6 482.7,315.1 483.0,332.8 483.3,312.1 483.6,347.6 483.9,323.9 484.2,338.7 484.5,326.9 484.8,338.7 485.1,315.1 485.4,332.8 485.7,321.0 486.0,338.7 486.3,323.9 486.6,338.7 486.9,323.9 487.2,338.7 487.5,329.9 487.8,335.8 488.1,335.8 488.4,323.9 488.7,315.1 489.0,341.6 489.3,323.9 489.6,323.9 489.9,321.0 490.2,329.9 490.5,332.8 490.8,335.8 491.1,332.8 491.4,332.8 491.7,323.9 492.0,335.8 492.3,321.0 492.6,332.8 492.9,315.1 493.2,332.8 493.5,335.8 493.8,329.9 494.1,315.1 494.4,338.7 494.7,321.0 495.0,335.8 495.3,329.9 495.6,329.9 495.9,321.0 496.2,332.8 496.5,321.0 496.8,335.8 497.1,326.9 497.4,321.0 497.7,323.9 498.0,332.8 498.3,321.0 498.6,335.8 498.9,329.9 499.2,335.8 499.5,326.9 499.8,335.8 500.1,335.8 500.4,335.8 500.7,326.9 501.0,338.7 501.3,329.9 501.6,335.8 501.9,332.8 502.2,335.8 502.5,326.9 502.8,338.7 503.1,323.9 503.4,347.6 503.7,329.9 504.0,332.8 504.3,335.8 504.6,332.8 504.9,329.9 505.2,335.8 505.5,329.9 505.8,335.8 506.1,323.9 506.4,321.0 506.7,321.0 507.0,335.8 507.3,312.1 507.6,341.6 507.9,315.1 508.2,329.9 508.5,323.9 508.8,329.9 509.1,323.9 509.4,335.8 509.7,329.9 510.0,338.7 510.3,323.9 510.6,347.6 510.9,338.7 511.2,344.6 511.5,329.9 511.8,338.7 512.1,323.9 512.4,344.6 512.7,332.8 513.0,338.7 513.3,329.9 513.6,332.8 513.9,326.9 514.2,335.8 514.5,318.1 514.8,341.6 515.1,326.9 515.4,335.8 515.7,326.9 516.0,338.7 516.3,323.9 516.6,338.7 516.9,323.9 517.2,338.7 517.5,341.6 517.8,344.6 518.1,329.9 518.4,338.7 518.7,338.7 519.0,326.9 519.3,321.0 519.6,347.6 519.9,329.9 520.2,335.8 520.5,326.9 520.8,338.7 521.1,335.8 521.4,332.8 521.7,318.1 522.0,329.9 522.3,321.0 522.6,329.9 522.9,309.2 523.2,332.8 523.5,318.1 523.8,323.9 524.1,315.1 524.4,321.0 524.7,315.1 525.0,332.8 525.3,312.1 525.6,326.9 525.9,321.0 526.2,338.7 526.5,309.2 526.8,338.7 527.1,326.9 527.4,332.8 527.7,341.6 528.0,332.8 528.3,326.9 528.6,338.7 528.9,326.9 529.2,338.7 529.5,321.0 529.8,350.5 530.1,329.9 530.4,344.6 530.7,323.9 531.0,341.6 531.3,323.9 531.6,323.9 531.9,326.9 532.2,335.8 532.5,323.9 532.8,321.0 533.1,315.1 533.4,329.9 533.7,323.9 534.0,315.1 534.3,312.1 534.6,332.8 534.9,312.1 535.2,332.8 535.5,318.1 535.8,321.0 536.1,329.9 536.4,323.9 536.7,312.1 537.0,318.1 537.3,312.1 537.6,329.9 537.9,321.0 538.2,312.1 538.5,303.3 538.8,329.9 539.1,321.0 539.4,318.1 539.7,306.2 540.0,315.1 540.3,312.1 540.6,326.9 540.9,309.2 541.2,318.1 541.5,309.2 541.8,318.1 542.1,315.1 542.4,318.1 542.7,309.2 543.0,323.9 543.3,303.3 543.6,329.9 543.9,315.1 544.2,323.9 544.5,306.2 544.8,341.6 545.1,306.2 545.4,329.9 545.7,323.9 546.0,315.1 546.3,312.1 546.6,321.0 546.9,312.1 547.2,315.1 547.5,303.3 547.8,321.0 548.1,303.3 548.4,315.1 548.7,309.2 549.0,318.1 549.3,309.2 549.6,318.1 549.9,303.3 550.2,326.9 550.5,309.2 550.8,309.2 551.1,309.2 551.4,321.0 551.7,315.1 552.0,326.9 552.3,315.1 552.6,321.0 552.9,306.2 553.2,329.9 553.5,312.1 553.8,318.1 554.1,303.3 554.4,315.1 554.7,300.4 555.0,321.0 555.3,294.4 555.6,309.2 555.9,285.6 556.2,318.1 556.5,303.3 556.8,306.2 557.1,300.4 557.4,303.3 557.7,285.6 558.0,291.5 558.3,291.5 558.6,303.3 558.9,297.4 559.2,306.2 559.5,279.7 559.8,315.1 560.1,294.4 560.4,312.1 560.7,294.4 561.0,297.4 561.3,291.5 561.6,309.2 561.9,303.3 562.2,309.2 562.5,294.4 562.8,315.1 563.1,303.3 563.4,309.2 563.7,291.5 564.0,297.4 564.3,291.5 564.6,303.3 564.9,285.6 565.2,323.9 565.5,300.4 565.8,315.1 566.1,297.4 566.4,315.1 566.7,323.9 567.0,335.8 567.3,303.3 567.6,344.6 567.9,318.1 568.2,332.8 568.5,312.1 568.8,335.8 569.1,309.2 569.4,344.6 569.7,315.1 570.0,341.6 570.3,326.9 570.6,329.9 570.9,344.6 571.2,335.8 571.5,323.9 571.8,338.7 572.1,332.8 572.4,347.6 572.7,347.6 573.0,356.4 573.3,321.0 573.6,356.4 573.9,335.8 574.2,347.6 574.5,329.9 574.8,344.6 575.1,335.8 575.4,344.6 575.7,321.0 576.0,344.6 576.3,326.9 576.6,338.7 576.9,332.8 577.2,338.7 577.5,329.9 577.8,338.7 578.1,332.8 578.4,344.6 578.7,329.9 579.0,338.7 579.3,321.0 579.6,353.4 579.9,332.8 580.2,338.7 580.5,329.9 580.8,323.9 581.1,332.8 581.4,341.6 581.7,329.9 582.0,338.7 582.3,329.9 582.6,341.6 582.9,326.9 583.2,350.5 583.5,332.8 583.8,338.7 584.1,335.8 584.4,341.6 584.7,332.8 585.0,341.6 585.3,338.7 585.6,344.6 585.9,335.8 586.2,344.6 586.5,332.8 586.8,338.7 587.1,332.8 587.4,323.9 587.7,318.1 588.0,341.6 588.3,332.8 588.6,332.8 588.9,326.9 589.2,344.6 589.5,332.8 589.8,338.7 590.1,323.9 590.4,338.7 590.7,323.9 591.0,353.4 591.3,332.8 591.6,341.6 591.9,335.8 592.2,350.5 592.5,350.5 592.8,350.5 593.1,338.7 593.4,347.6 593.7,332.8 594.0,347.6 594.3,332.8 594.6,344.6 594.9,335.8 595.2,341.6 595.5,335.8 595.8,338.7 596.1,326.9 596.4,335.8 596.7,329.9 597.0,323.9 597.3,321.0 597.6,341.6 597.9,326.9 598.2,338.7 598.5,338.7 598.8,338.7 599.1,326.9 599.4,335.8 599.7,329.9 600.0,347.6 600.3,332.8 600.6,338.7 600.9,344.6 601.2,338.7 601.5,332.8 601.8,335.8 602.1,329.9 602.4,332.8 602.7,329.9 603.0,347.6 603.3,341.6 603.6,335.8 603.9,321.0 604.2,350.5 604.5,323.9 604.8,338.7 605.1,329.9 605.4,341.6 605.7,332.8 606.0,344.6 606.3,344.6 606.6,344.6 606.9,335.8 607.2,341.6 607.5,332.8 607.8,353.4 608.1,338.7 608.4,332.8 608.7,332.8 609.0,341.6 609.3,332.8 609.6,335.8 609.9,321.0 610.2,347.6 610.5,326.9 610.8,338.7 611.1,341.6 611.4,341.6 611.7,329.9 612.0,335.8 612.3,332.8 612.6,344.6 612.9,332.8 613.2,353.4 613.5,338.7 613.8,344.6 614.1,338.7 614.4,338.7 614.7,326.9 615.0,338.7 615.3,335.8 615.6,335.8 615.9,329.9 616.2,335.8 616.5,329.9 616.8,326.9 617.1,323.9 617.4,329.9 617.7,315.1 618.0,338.7 618.3,321.0 618.6,318.1 618.9,326.9 619.2,326.9 619.5,318.1 619.8,329.9 620.1,315.1 620.4,318.1 620.7,309.2 621.0,335.8 621.3,321.0 621.6,321.0 621.9,329.9 622.2,329.9 622.5,321.0 622.8,329.9 623.1,323.9 623.4,332.8 623.7,326.9 624.0,321.0 624.3,321.0 624.6,341.6 624.9,326.9 625.2,332.8 625.5,323.9 625.8,326.9 626.1,326.9 626.4,332.8 626.7,318.1 627.0,335.8 627.3,323.9 627.6,323.9 627.9,318.1 628.2,332.8 628.5,329.9 628.8,332.8 629.1,318.1 629.4,326.9 629.7,309.2 630.0,335.8 630.3,318.1 630.6,332.8 630.9,332.8 631.2,329.9 631.5,332.8 631.8,321.0 632.1,318.1 632.4,332.8 632.7,323.9 633.0,335.8 633.3,321.0 633.6,341.6 633.9,329.9 634.2,338.7 634.5,329.9 634.8,341.6 635.1,335.8 635.4,344.6 635.7,332.8 636.0,344.6 636.3,335.8 636.6,347.6 636.9,332.8 637.2,347.6 637.5,347.6 637.8,341.6 638.1,335.8 638.4,341.6 638.7,332.8 639.0,344.6 639.3,329.9 639.6,347.6 639.9,335.8 640.2,341.6 640.5,335.8 640.8,347.6 641.1,332.8 641.4,347.6 641.7,341.6 642.0,338.7 642.3,329.9 642.6,344.6 642.9,341.6 643.2,341.6 643.5,329.9 643.8,335.8 644.1,321.0 644.4,332.8 644.7,323.9 645.0,323.9 645.3,318.1 645.6,332.8 645.9,329.9 646.2,323.9 646.5,315.1 646.8,309.2 647.1,303.3 647.4,332.8 647.7,315.1 648.0,326.9 648.3,318.1 648.6,326.9 648.9,318.1 649.2,326.9 649.5,318.1 649.8,326.9 650.1,318.1 650.4,332.8 650.7,321.0 651.0,341.6 651.3,329.9 651.6,338.7 651.9,329.9 652.2,338.7 652.5,326.9 652.8,344.6 653.1,329.9 653.4,332.8 653.7,321.0 654.0,329.9 654.3,312.1 654.6,338.7 654.9,323.9 655.2,321.0 655.5,323.9 655.8,335.8 656.1,329.9 656.4,321.0 656.7,329.9 657.0,344.6 657.3,323.9 657.6,347.6 657.9,326.9 658.2,329.9 658.5,326.9 658.8,338.7 659.1,329.9 659.4,332.8 659.7,326.9 660.0,335.8 660.3,332.8 660.6,335.8 660.9,326.9 661.2,326.9 661.5,323.9 661.8,332.8 662.1,318.1 662.4,332.8 662.7,321.0 663.0,326.9 663.3,318.1 663.6,326.9 663.9,312.1 664.2,323.9 664.5,303.3 664.8,332.8 665.1,318.1 665.4,326.9 665.7,321.0 666.0,335.8 666.3,321.0 666.6,341.6 666.9,329.9 667.2,341.6 667.5,323.9 667.8,332.8 668.1,326.9 668.4,332.8 668.7,335.8 669.0,332.8 669.3,326.9 669.6,341.6 669.9,338.7 670.2,332.8 670.5,332.8 670.8,332.8 671.1,321.0 671.4,335.8 671.7,323.9 672.0,329.9 672.3,323.9 672.6,323.9 672.9,321.0 673.2,326.9 673.5,312.1 673.8,329.9 674.1,323.9 674.4,321.0 674.7,321.0 675.0,329.9 675.3,326.9 675.6,323.9 675.9,326.9 676.2,335.8 676.5,323.9 676.8,332.8 677.1,323.9 677.4,341.6 677.7,329.9 678.0,335.8 678.3,326.9 678.6,335.8 678.9,332.8 679.2,335.8 679.5,329.9 679.8,338.7 680.1,329.9 680.4,335.8 680.7,326.9 681.0,341.6 681.3,329.9 681.6,332.8 681.9,323.9 682.2,329.9 682.5,323.9 682.8,329.9 683.1,315.1 683.4,332.8 683.7,321.0 684.0,329.9 684.3,323.9 684.6,335.8 684.9,323.9 685.2,335.8 685.5,321.0 685.8,353.4 686.1,326.9 686.4,323.9 686.7,323.9 687.0,341.6 687.3,332.8 687.6,344.6 687.9,321.0 688.2,347.6 688.5,329.9 688.8,338.7 689.1,344.6 689.4,347.6 689.7,326.9 690.0,344.6 690.3,332.8 690.6,347.6 690.9,329.9 691.2,332.8 691.5,326.9 691.8,347.6 692.1,329.9 692.4,344.6 692.7,350.5 693.0,347.6 693.3,338.7 693.6,350.5 693.9,344.6 694.2,350.5 694.5,344.6 694.8,356.4 695.1,335.8 695.4,362.3 695.7,344.6 696.0,359.4 696.3,344.6 696.6,356.4 696.9,338.7 697.2,350.5 697.5,350.5 697.8,350.5 698.1,347.6 698.4,356.4 698.7,338.7 699.0,359.4 699.3,344.6 699.6,353.4 699.9,338.7 700.2,359.4 700.5,344.6 700.8,353.4 701.1,344.6 701.4,353.4 701.7,347.6 702.0,353.4 702.3,344.6 702.6,353.4 702.9,344.6 703.2,359.4 703.5,341.6 703.8,359.4 704.1,350.5 704.4,359.4 704.7,353.4 705.0,359.4 705.3,350.5 705.6,353.4 705.9,356.4 706.2,362.3 706.5,344.6 706.8,353.4 707.1,350.5 707.4,356.4 707.7,344.6 708.0,365.2 708.3,350.5 708.6,359.4 708.9,359.4 709.2,359.4 709.5,356.4 709.8,362.3 710.1,350.5 710.4,362.3 710.7,356.4 711.0,362.3 711.3,350.5 711.6,368.2 711.9,356.4 712.2,362.3 712.5,359.4 712.8,362.3 713.1,353.4 713.4,365.2 713.7,356.4 714.0,362.3 714.3,359.4 714.6,365.2 714.9,347.6 715.2,371.1 715.5,353.4 715.8,368.2 716.1,368.2 716.4,365.2 716.7,356.4 717.0,362.3 717.3,356.4 717.6,362.3 717.9,356.4 718.2,368.2 718.5,362.3 718.8,368.2 719.1,371.1 719.4,368.2 719.7,359.4 720.0,371.1 720.3,365.2 720.6,371.1 720.9,365.2 721.2,368.2 721.5,359.4 721.8,377.1 722.1,362.3 722.4,371.1 722.7,368.2 723.0,374.1 723.3,362.3 723.6,374.1 723.9,365.2 724.2,377.1 724.5,365.2 724.8,380.0 725.1,362.3 725.4,382.9 725.7,371.1 726.0,380.0 726.3,374.1 726.6,380.0 726.9,377.1 727.2,385.9 727.5,377.1 727.8,382.9 728.1,371.1 728.4,374.1 728.7,371.1 729.0,388.9 729.3,380.0 729.6,382.9 729.9,380.0 730.2,388.9 730.5,385.9 730.8,391.8 731.1,391.8 731.4,391.8 731.7,388.9 732.0,394.8 732.3,385.9 732.6,397.7 732.9,391.8 733.2,388.9 733.5,388.9 733.8,400.6 734.1,394.8 734.4,394.8 734.7,388.9 735.0,397.7 735.3,391.8 735.6,400.6 735.9,388.9 736.2,406.6 736.5,400.6 736.8,403.6 737.1,394.8 737.4,400.6 737.7,394.8 738.0,397.7 738.3,397.7 738.6,391.8 738.9,391.8 739.2,403.6 739.5,397.7 739.8,400.6 740.1,397.7 740.4,403.6 740.7,397.7 741.0,403.6 741.3,400.6 741.6,406.6 741.9,403.6 742.2,409.5 742.5,400.6 742.8,415.4 743.1,406.6 743.4,412.4 743.7,403.6 744.0,412.4 744.3,406.6 744.6,406.6 744.9,412.4 745.2,412.4 745.5,400.6 745.8,415.4 746.1,403.6 746.4,409.5 746.7,403.6 747.0,406.6 747.3,409.5 747.6,412.4 747.9,403.6 748.2,412.4 748.5,400.6 748.8,412.4 749.1,400.6 749.4,400.6 749.7,397.7 750.0,403.6 750.3,400.6 750.6,403.6 750.9,397.7 751.2,403.6 751.5,388.9 751.8,406.6 752.1,394.8 752.4,400.6 752.7,394.8 753.0,406.6 753.3,400.6 753.6,412.4 753.9,394.8 754.2,415.4 754.5,406.6 754.8,412.4 755.1,400.6 755.4,406.6 755.7,400.6 756.0,409.5 756.3,409.5 756.6,406.6 756.9,388.9 757.2,406.6 757.5,391.8 757.8,403.6 758.1,388.9 758.4,400.6 758.7,391.8 759.0,397.7 759.3,388.9 759.6,400.6 759.9,397.7 760.2,397.7 760.5,388.9 760.8,391.8 761.1,385.9 761.4,382.9 761.7,374.1 762.0,391.8 762.3,374.1 762.6,382.9 762.9,374.1 763.2,388.9 763.5,380.0 763.8,388.9 764.1,377.1 764.4,385.9 764.7,380.0 765.0,394.8 765.3,382.9 765.6,385.9 765.9,382.9 766.2,391.8 766.5,382.9 766.8,391.8 767.1,382.9 767.4,385.9 767.7,380.0 768.0,391.8 768.3,382.9 768.6,391.8 768.9,377.1 769.2,394.8 769.5,380.0 769.8,388.9 770.1,382.9 770.4,388.9 770.7,382.9 771.0,385.9 771.3,377.1 771.6,385.9 771.9,377.1 772.2,380.0 772.5,374.1 772.8,377.1 773.1,374.1 773.4,377.1 773.7,368.2 774.0,377.1 774.3,362.3 774.6,374.1 774.9,371.1 775.2,371.1 775.5,362.3 775.8,371.1 776.1,365.2 776.4,371.1 776.7,362.3 777.0,365.2 777.3,359.4 777.6,374.1 777.9,371.1 778.2,365.2 778.5,359.4 778.8,368.2 779.1,368.2 779.4,368.2 779.7,365.2 780.0,368.2 780.3,368.2 780.6,365.2 780.9,356.4 781.2,359.4 781.5,353.4 781.8,368.2 782.1,356.4 782.4,365.2 782.7,356.4 783.0,359.4 783.3,356.4 783.6,356.4 783.9,350.5 784.2,353.4 784.5,341.6 784.8,356.4 785.1,347.6 785.4,353.4 785.7,347.6 786.0,350.5 786.3,347.6 786.6,353.4 786.9,341.6 787.2,350.5 787.5,344.6 787.8,344.6 788.1,338.7 788.4,353.4 788.7,344.6 789.0,353.4 789.3,344.6 789.6,350.5 789.9,341.6 790.2,353.4 790.5,344.6 790.8,350.5 791.1,341.6 791.4,353.4 791.7,335.8 792.0,356.4 792.3,341.6 792.6,353.4 792.9,341.6 793.2,350.5 793.5,335.8 793.8,347.6 794.1,335.8 794.4,344.6 794.7,335.8 795.0,344.6 795.3,332.8 795.6,350.5 795.9,338.7 796.2,332.8 796.5,338.7 796.8,353.4 797.1,338.7 797.4,350.5 797.7,353.4 798.0,353.4 798.3,347.6 798.6,353.4 798.9,335.8 799.2,359.4 799.5,347.6 799.8,347.6 800.1,347.6 800.4,356.4 800.7,347.6 801.0,347.6 801.3,347.6 801.6,356.4 801.9,350.5 802.2,356.4 802.5,344.6 802.8,365.2 803.1,350.5 803.4,353.4 803.7,353.4 804.0,356.4 804.3,347.6 804.6,344.6 804.9,350.5 805.2,353.4 805.5,335.8 805.8,362.3 806.1,347.6 806.4,356.4 806.7,347.6 807.0,359.4 807.3,353.4 807.6,365.2 807.9,353.4 808.2,356.4 808.5,362.3 808.8,368.2 809.1,350.5 809.4,380.0 809.7,353.4 810.0,377.1 810.3,356.4 810.6,368.2 810.9,362.3 811.2,365.2 811.5,365.2 811.8,371.1 812.1,359.4 812.4,374.1 812.7,359.4 813.0,365.2 813.3,359.4 813.6,368.2 813.9,362.3 814.2,365.2 814.5,356.4 814.8,368.2 815.1,362.3 815.4,365.2 815.7,362.3 816.0,365.2 816.3,359.4 816.6,362.3 816.9,362.3 817.2,368.2 817.5,362.3 817.8,371.1 818.1,362.3 818.4,362.3 818.7,359.4 819.0,368.2 819.3,362.3 819.6,371.1 819.9,356.4 820.2,371.1 820.5,362.3 820.8,359.4 821.1,350.5 821.4,374.1 821.7,356.4 822.0,365.2 822.3,359.4 822.6,371.1 822.9,353.4 823.2,362.3 823.5,350.5 823.8,371.1 824.1,359.4 824.4,359.4 824.7,362.3 825.0,365.2 825.3,356.4 825.6,371.1 825.9,356.4 826.2,374.1 826.5,362.3 826.8,368.2 827.1,362.3 827.4,365.2 827.7,359.4 828.0,368.2 828.3,359.4 828.6,359.4 828.9,356.4 829.2,362.3 829.5,353.4 829.8,365.2 830.1,356.4 830.4,362.3 830.7,353.4 831.0,359.4 831.3,353.4 831.6,356.4 831.9,359.4 832.2,359.4 832.5,350.5 832.8,362.3 833.1,344.6 833.4,365.2 833.7,350.5 834.0,353.4 834.3,350.5 834.6,347.6 834.9,356.4 835.2,350.5 835.5,347.6 835.8,359.4 836.1,362.3 836.4,356.4 836.7,350.5 837.0,365.2 837.3,353.4 837.6,362.3 837.9,356.4 838.2,362.3 838.5,359.4 838.8,356.4 839.1,347.6 839.4,356.4 839.7,350.5 840.0,350.5 840.3,344.6 840.6,359.4 840.9,347.6 841.2,353.4 841.5,353.4 841.8,353.4 842.1,347.6 842.4,350.5 842.7,341.6 843.0,347.6 843.3,338.7 843.6,347.6 843.9,338.7 844.2,356.4 844.5,350.5 844.8,350.5 845.1,344.6 845.4,353.4 845.7,341.6 846.0,347.6 846.3,338.7 846.6,347.6 846.9,341.6 847.2,353.4 847.5,338.7 847.8,359.4 848.1,344.6 848.4,353.4 848.7,347.6 849.0,350.5 849.3,344.6 849.6,359.4 849.9,344.6 850.2,353.4 850.5,332.8 850.8,362.3 851.1,335.8 851.4,356.4 851.7,350.5 852.0,332.8 852.3,338.7 852.6,350.5 852.9,341.6 853.2,344.6 853.5,326.9 853.8,353.4 854.1,341.6 854.4,353.4 854.7,335.8 855.0,359.4 855.3,341.6 855.6,350.5 855.9,344.6 856.2,344.6 856.5,341.6 856.8,353.4 857.1,338.7 857.4,362.3 857.7,344.6 858.0,359.4 858.3,353.4 858.6,353.4 858.9,347.6 859.2,350.5 859.5,347.6 859.8,356.4 860.1,344.6 860.4,353.4 860.7,341.6 861.0,359.4 861.3,347.6 861.6,353.4 861.9,344.6 862.2,353.4 862.5,338.7 862.8,353.4 863.1,347.6 863.4,359.4 863.7,338.7 864.0,365.2 864.3,350.5 864.6,359.4 864.9,353.4 865.2,365.2 865.5,344.6 865.8,365.2 866.1,353.4 866.4,368.2 866.7,344.6 867.0,374.1 867.3,359.4 867.6,362.3 867.9,368.2 868.2,362.3 868.5,356.4 868.8,368.2 869.1,356.4 869.4,359.4 869.7,359.4 870.0,365.2 870.3,353.4 870.6,371.1 870.9,359.4 871.2,365.2 871.5,362.3 871.8,368.2 872.1,365.2 872.4,359.4 872.7,362.3 873.0,356.4 873.3,362.3 873.6,368.2 873.9,356.4 874.2,377.1 874.5,365.2 874.8,377.1 875.1,368.2 875.4,374.1 875.7,365.2 876.0,371.1 876.3,362.3 876.6,371.1 876.9,359.4 877.2,365.2 877.5,359.4 877.8,365.2 878.1,353.4 878.4,380.0 878.7,353.4 879.0,359.4 879.3,359.4 879.6,365.2 879.9,356.4 880.2,374.1 880.5,353.4 880.8,368.2 881.1,359.4 881.4,368.2 881.7,359.4 882.0,368.2 882.3,353.4 882.6,368.2 882.9,356.4 883.2,362.3 883.5,353.4 883.8,359.4 884.1,365.2 884.4,365.2 884.7,359.4 885.0,365.2 885.3,359.4 885.6,353.4 885.9,359.4 886.2,362.3 886.5,353.4 886.8,371.1 887.1,359.4 887.4,365.2 887.7,356.4 888.0,365.2 888.3,353.4 888.6,362.3 888.9,350.5 889.2,365.2 889.5,347.6 889.8,368.2 890.1,356.4 890.4,359.4 890.7,365.2 891.0,356.4 891.3,350.5 891.6,359.4 891.9,362.3 892.2,362.3 892.5,362.3 892.8,362.3 893.1,356.4 893.4,365.2 893.7,359.4 894.0,362.3 894.3,353.4 894.6,368.2 894.9,362.3 895.2,362.3 895.5,353.4 895.8,362.3 896.1,356.4 896.4,362.3 896.7,356.4 897.0,362.3 897.3,353.4 897.6,362.3 897.9,353.4 898.2,362.3 898.5,359.4 898.8,368.2 899.1,356.4 899.4,368.2 899.7,353.4 900.0,374.1 900.3,359.4 900.6,362.3 900.9,359.4 901.2,365.2 901.5,353.4 901.8,362.3 902.1,356.4 902.4,362.3 902.7,359.4 903.0,368.2 903.3,368.2 903.6,368.2 903.9,353.4 904.2,371.1 904.5,362.3 904.8,371.1 905.1,359.4 905.4,368.2 905.7,359.4 906.0,374.1 906.3,371.1 906.6,371.1 906.9,356.4 907.2,377.1 907.5,362.3 907.8,371.1 908.1,368.2 908.4,374.1 908.7,368.2 909.0,377.1 909.3,368.2 909.6,377.1 909.9,365.2 910.2,380.0 910.5,368.2 910.8,377.1 911.1,368.2 911.4,368.2 911.7,374.1 912.0,371.1 912.3,362.3 912.6,371.1 912.9,362.3 913.2,365.2 913.5,353.4 913.8,377.1 914.1,356.4 914.4,368.2 914.7,374.1 915.0,374.1 915.3,359.4 915.6,359.4 915.9,365.2 916.2,365.2 916.5,353.4 916.8,365.2 917.1,350.5 917.4,374.1 917.7,356.4 918.0,356.4 918.3,350.5 918.6,365.2 918.9,356.4 919.2,365.2 919.5,353.4 919.8,362.3 920.1,347.6 920.4,368.2 920.7,350.5 921.0,359.4 921.3,359.4 921.6,371.1 921.9,365.2 922.2,365.2 922.5,359.4 922.8,371.1 923.1,368.2 923.4,371.1 923.7,353.4 924.0,374.1 924.3,368.2 924.6,368.2 924.9,359.4 925.2,368.2 925.5,362.3 925.8,368.2 926.1,353.4 926.4,371.1 926.7,359.4 927.0,362.3 927.3,356.4 927.6,371.1 927.9,362.3 928.2,368.2 928.5,362.3 928.8,368.2 929.1,356.4 929.4,371.1 929.7,356.4 930.0,377.1 930.3,359.4 930.6,356.4 930.9,362.3 931.2,362.3 931.5,362.3 931.8,368.2 932.1,368.2 932.4,362.3 932.7,362.3 933.0,368.2 933.3,356.4 933.6,377.1 933.9,362.3 934.2,368.2 934.5,362.3 934.8,368.2 935.1,362.3 935.4,371.1 935.7,365.2 936.0,362.3 936.3,362.3 936.6,368.2 936.9,353.4 937.2,377.1 937.5,356.4 937.8,368.2 938.1,359.4 938.4,374.1 938.7,365.2 939.0,371.1 939.3,368.2 939.6,377.1 939.9,362.3 940.2,380.0 940.5,377.1 940.8,374.1 941.1,365.2 941.4,371.1 941.7,362.3 942.0,368.2 942.3,371.1 942.6,371.1 942.9,365.2 943.2,362.3 943.5,356.4 943.8,377.1 944.1,359.4 944.4,365.2 944.7,371.1 945.0,368.2 945.3,359.4 945.6,368.2 945.9,368.2 946.2,368.2 946.5,362.3 946.8,371.1 947.1,368.2 947.4,377.1 947.7,359.4 948.0,377.1 948.3,368.2 948.6,374.1 948.9,365.2 949.2,374.1 949.5,362.3 949.8,371.1 950.1,362.3 950.4,368.2 950.7,359.4 951.0,371.1 951.3,353.4 951.6,371.1 951.9,362.3 952.2,359.4 952.5,362.3 952.8,365.2 953.1,356.4 953.4,362.3 953.7,359.4 954.0,356.4 954.3,365.2 954.6,362.3 954.9,356.4 955.2,362.3 955.5,347.6 955.8,365.2 956.1,350.5 956.4,359.4 956.7,353.4 957.0,362.3 957.3,356.4 957.6,362.3 957.9,353.4 958.2,359.4 958.5,353.4 958.8,362.3 959.1,359.4 959.4,365.2 959.7,353.4 960.0,368.2 960.3,365.2 960.6,365.2 960.9,353.4 961.2,356.4 961.5,353.4 961.8,359.4 962.1,353.4 962.4,359.4 962.7,353.4 963.0,359.4 963.3,347.6 963.6,365.2 963.9,356.4 964.2,353.4 964.5,356.4 964.8,365.2 965.1,356.4 965.4,362.3 965.7,353.4 966.0,368.2 966.3,353.4 966.6,365.2 966.9,347.6 967.2,371.1 967.5,356.4 967.8,362.3 968.1,350.5 968.4,359.4 968.7,359.4 969.0,353.4 969.3,350.5 969.6,359.4 969.9,341.6 970.2,359.4 970.5,347.6 970.8,353.4 971.1,347.6 971.4,356.4 971.7,350.5 972.0,353.4 972.3,356.4 972.6,344.6 972.9,338.7 973.2,362.3 973.5,344.6 973.8,353.4 974.1,350.5 974.4,359.4 974.7,344.6 975.0,353.4 975.3,353.4 975.6,356.4 975.9,347.6 976.2,356.4 976.5,338.7 976.8,356.4 977.1,344.6 977.4,356.4 977.7,347.6 978.0,350.5 978.3,338.7 978.6,350.5 978.9,341.6 979.2,356.4 979.5,335.8 979.8,362.3 980.1,338.7 980.4,350.5 980.7,353.4 981.0,344.6 981.3,344.6 981.6,350.5 981.9,353.4 982.2,353.4 982.5,344.6 982.8,347.6 983.1,338.7 983.4,356.4 983.7,356.4 984.0,350.5 984.3,335.8 984.6,347.6 984.9,332.8 985.2,347.6 985.5,329.9 985.8,353.4 986.1,344.6 986.4,344.6 986.7,335.8 987.0,347.6 987.3,338.7 987.6,353.4 987.9,338.7 988.2,356.4 988.5,338.7 988.8,347.6 989.1,341.6 989.4,347.6 989.7,335.8 990.0,341.6 990.3,326.9 990.6,344.6 990.9,332.8 991.2,341.6 991.5,335.8 991.8,332.8 992.1,335.8 992.4,347.6 992.7,332.8 993.0,347.6 993.3,335.8 993.6,353.4 993.9,344.6 994.2,347.6 994.5,338.7 994.8,347.6 995.1,347.6 995.4,344.6 995.7,338.7 996.0,347.6 996.3,338.7 996.6,341.6 996.9,341.6 997.2,344.6 997.5,332.8 997.8,353.4 998.1,338.7 998.4,347.6 998.7,335.8 999.0,344.6 999.3,338.7 999.6,350.5 999.9,344.6 1000.2,347.6 1000.5,332.8 1000.8,344.6 1001.1,335.8 1001.4,341.6 1001.7,332.8 1002.0,347.6 1002.3,335.8 1002.6,341.6 1002.9,335.8 1003.2,347.6 1003.5,338.7 1003.8,347.6 1004.1,335.8 1004.4,344.6 1004.7,338.7 1005.0,344.6 1005.3,332.8 1005.6,347.6 1005.9,338.7 1006.2,344.6 1006.5,335.8 1006.8,335.8 1007.1,338.7 1007.4,344.6 1007.7,341.6 1008.0,341.6 1008.3,353.4 1008.6,347.6 1008.9,335.8 1009.2,350.5 1009.5,341.6 1009.8,341.6 1010.1,332.8 1010.4,347.6 1010.7,344.6 1011.0,344.6 1011.3,338.7 1011.6,344.6 1011.9,338.7 1012.2,350.5 1012.5,338.7 1012.8,344.6 1013.1,350.5 1013.4,347.6 1013.7,344.6 1014.0,353.4 1014.3,341.6 1014.6,350.5 1014.9,341.6 1015.2,353.4 1015.5,353.4 1015.8,350.5 1016.1,344.6 1016.4,350.5 1016.7,347.6 1017.0,347.6 1017.3,344.6 1017.6,347.6 1017.9,338.7 1018.2,347.6 1018.5,341.6 1018.8,347.6 1019.1,338.7 1019.4,338.7 1019.7,344.6 1020.0,338.7 1020.3,335.8 1020.6,347.6 1020.9,338.7 1021.2,344.6 1021.5,332.8 1021.8,353.4 1022.1,338.7 1022.4,335.8 1022.7,338.7 1023.0,347.6 1023.3,335.8 1023.6,350.5 1023.9,341.6 1024.2,347.6 1024.5,341.6 1024.8,347.6 1025.1,332.8 1025.4,347.6 1025.7,335.8 1026.0,338.7 1026.3,335.8 1026.6,341.6 1026.9,341.6 1027.2,335.8 1027.5,341.6 1027.8,344.6 1028.1,332.8 1028.4,338.7 1028.7,326.9 1029.0,347.6 1029.3,332.8 1029.6,341.6 1029.9,338.7 1030.2,344.6 1030.5,335.8 1030.8,338.7 1031.1,335.8 1031.4,341.6 1031.7,338.7 1032.0,347.6 1032.3,332.8 1032.6,353.4 1032.9,335.8 1033.2,347.6 1033.5,338.7 1033.8,344.6 1034.1,338.7 1034.4,350.5 1034.7,344.6 1035.0,353.4 1035.3,338.7 1035.6,338.7 1035.9,341.6 1036.2,347.6 1036.5,332.8 1036.8,353.4 1037.1,353.4 1037.4,347.6 1037.7,338.7 1038.0,347.6 1038.3,338.7 1038.6,332.8 1038.9,335.8 1039.2,347.6 1039.5,332.8 1039.8,347.6 1040.1,335.8 1040.4,344.6 1040.7,338.7 1041.0,332.8 1041.3,338.7 1041.6,341.6 1041.9,332.8 1042.2,341.6 1042.5,335.8 1042.8,341.6 1043.1,326.9 1043.4,338.7 1043.7,332.8 1044.0,335.8 1044.3,326.9 1044.6,347.6 1044.9,329.9 1045.2,344.6 1045.5,323.9 1045.8,338.7 1046.1,341.6 1046.4,338.7 1046.7,321.0 1047.0,341.6 1047.3,321.0 1047.6,332.8 1047.9,321.0 1048.2,332.8 1048.5,335.8 1048.8,332.8 1049.1,326.9 1049.4,341.6 1049.7,326.9 1050.0,338.7 1050.3,323.9 1050.6,347.6 1050.9,329.9 1051.2,326.9 1051.5,329.9 1051.8,341.6 1052.1,329.9 1052.4,335.8 1052.7,332.8 1053.0,341.6 1053.3,332.8 1053.6,338.7 1053.9,326.9 1054.2,341.6 1054.5,338.7 1054.8,338.7 1055.1,329.9 1055.4,338.7 1055.7,335.8 1056.0,341.6 1056.3,338.7 1056.6,344.6 1056.9,338.7 1057.2,347.6 1057.5,335.8 1057.8,353.4 1058.1,341.6 1058.4,338.7 1058.7,338.7 1059.0,344.6 1059.3,338.7 1059.6,335.8 1059.9,338.7 1060.2,341.6 1060.5,338.7 1060.8,344.6 1061.1,332.8 1061.4,344.6 1061.7,344.6 1062.0,344.6 1062.3,341.6 1062.6,341.6 1062.9,338.7 1063.2,344.6 1063.5,335.8 1063.8,341.6 1064.1,332.8 1064.4,350.5 1064.7,335.8 1065.0,344.6 1065.3,341.6 1065.6,344.6 1065.9,332.8 1066.2,341.6 1066.5,332.8 1066.8,338.7 1067.1,329.9 1067.4,341.6 1067.7,332.8 1068.0,332.8 1068.3,329.9 1068.6,335.8 1068.9,326.9 1069.2,332.8 1069.5,329.9 1069.8,335.8 1070.1,321.0 1070.4,341.6 1070.7,323.9 1071.0,326.9 1071.3,332.8 1071.6,341.6 1071.9,332.8 1072.2,344.6 1072.5,332.8 1072.8,341.6 1073.1,332.8 1073.4,347.6 1073.7,335.8 1074.0,344.6 1074.3,341.6 1074.6,347.6 1074.9,332.8 1075.2,341.6 1075.5,332.8 1075.8,338.7 1076.1,323.9 1076.4,338.7 1076.7,321.0 1077.0,335.8 1077.3,321.0 1077.6,338.7 1077.9,318.1 1078.2,353.4 1078.5,332.8 1078.8,335.8 1079.1,329.9 1079.4,329.9 1079.7,335.8 1080.0,341.6 1080.3,332.8 1080.6,341.6 1080.9,341.6 1081.2,338.7 1081.5,326.9 1081.8,341.6 1082.1,341.6 1082.4,329.9 1082.7,338.7 1083.0,338.7 1083.3,329.9 1083.6,335.8 1083.9,326.9 1084.2,341.6 1084.5,323.9 1084.8,341.6 1085.1,323.9 1085.4,335.8 1085.7,329.9 1086.0,335.8 1086.3,329.9 1086.6,338.7 1086.9,329.9 1087.2,338.7 1087.5,326.9 1087.8,326.9 1088.1,329.9 1088.4,329.9 1088.7,321.0 1089.0,341.6 1089.3,329.9 1089.6,341.6 1089.9,326.9 1090.2,338.7 1090.5,329.9 1090.8,338.7 1091.1,332.8 1091.4,341.6 1091.7,332.8 1092.0,332.8 1092.3,326.9 1092.6,341.6 1092.9,341.6 1093.2,341.6 1093.5,326.9 1093.8,338.7 1094.1,329.9 1094.4,332.8 1094.7,323.9 1095.0,332.8 1095.3,321.0 1095.6,341.6 1095.9,321.0 1096.2,323.9 1096.5,323.9 1096.8,335.8 1097.1,326.9 1097.4,338.7 1097.7,326.9 1098.0,329.9 1098.3,326.9 1098.6,347.6 1098.9,335.8 1099.2,341.6 1099.5,326.9 1099.8,353.4 1100.1,335.8 1100.4,341.6 1100.7,332.8 1101.0,338.7 1101.3,329.9 1101.6,344.6 1101.9,329.9 1102.2,335.8 1102.5,332.8 1102.8,341.6 1103.1,329.9 1103.4,323.9 1103.7,335.8 1104.0,332.8 1104.3,321.0 1104.6,338.7 1104.9,338.7 1105.2,338.7 1105.5,329.9 1105.8,335.8 1106.1,335.8 1106.4,341.6 1106.7,332.8 1107.0,332.8 1107.3,335.8 1107.6,341.6 1107.9,335.8 1108.2,344.6 1108.5,335.8 1108.8,347.6 1109.1,326.9 1109.4,347.6 1109.7,335.8 1110.0,341.6 1110.3,332.8 1110.6,341.6 1110.9,329.9 1111.2,335.8 1111.5,323.9 1111.8,344.6 1112.1,323.9 1112.4,338.7 1112.7,323.9 1113.0,338.7 1113.3,321.0 1113.6,341.6 1113.9,323.9 1114.2,335.8 1114.5,332.8 1114.8,335.8 1115.1,335.8 1115.4,338.7 1115.7,332.8 1116.0,338.7 1116.3,326.9 1116.6,332.8 1116.9,323.9 1117.2,341.6 1117.5,332.8 1117.8,335.8 1118.1,332.8 1118.4,341.6 1118.7,329.9 1119.0,338.7 1119.3,335.8 1119.6,344.6 1119.9,341.6 1120.2,350.5 1120.5,332.8 1120.8,344.6 1121.1,335.8 1121.4,359.4 1121.7,341.6 1122.0,350.5 1122.3,338.7 1122.6,350.5 1122.9,332.8 1123.2,353.4 1123.5,335.8 1123.8,335.8 1124.1,332.8 1124.4,350.5 1124.7,338.7 1125.0,344.6 1125.3,326.9 1125.6,353.4 1125.9,332.8 1126.2,353.4 1126.5,335.8 1126.8,341.6 1127.1,332.8 1127.4,347.6 1127.7,350.5 1128.0,353.4 1128.3,341.6 1128.6,353.4 1128.9,344.6 1129.2,347.6 1129.5,335.8 1129.8,353.4 1130.1,344.6 1130.4,347.6 1130.7,338.7 1131.0,344.6 1131.3,332.8 1131.6,332.8 1131.9,329.9 1132.2,338.7 1132.5,323.9 1132.8,338.7 1133.1,312.1 1133.4,338.7 1133.7,312.1 1134.0,323.9 1134.3,315.1 1134.6,326.9 1134.9,318.1 1135.2,318.1 1135.5,309.2 1135.8,321.0 1136.1,326.9 1136.4,326.9 1136.7,315.1 1137.0,309.2 1137.3,315.1 1137.6,326.9 1137.9,309.2 1138.2,332.8 1138.5,315.1 1138.8,323.9 1139.1,318.1 1139.4,323.9 1139.7,315.1 1140.0,318.1 1140.3,309.2 1140.6,326.9 1140.9,315.1 1141.2,321.0 1141.5,306.2 1141.8,303.3 1142.1,300.4 1142.4,329.9 1142.7,309.2 1143.0,315.1 1143.3,309.2 1143.6,318.1 1143.9,321.0 1144.2,318.1 1144.5,306.2 1144.8,326.9 1145.1,315.1 1145.4,321.0 1145.7,312.1 1146.0,318.1 1146.3,309.2 1146.6,323.9 1146.9,315.1 1147.2,323.9 1147.5,315.1 1147.8,329.9 1148.1,312.1 1148.4,315.1 1148.7,297.4 1149.0,332.8 1149.3,306.2 1149.6,332.8 1149.9,309.2 1150.2,341.6 1150.5,321.0 1150.8,326.9 1151.1,323.9 1151.4,329.9 1151.7,321.0 1152.0,315.1 1152.3,321.0 1152.6,332.8 1152.9,321.0 1153.2,329.9 1153.5,315.1 1153.8,341.6 1154.1,318.1 1154.4,338.7 1154.7,323.9 1155.0,321.0 1155.3,321.0 1155.6,329.9 1155.9,323.9 1156.2,323.9 1156.5,323.9 1156.8,323.9 1157.1,323.9 1157.4,323.9 1157.7,323.9 1158.0,332.8 1158.3,321.0 1158.6,338.7 1158.9,323.9 1159.2,332.8 1159.5,323.9 1159.8,332.8 1160.1,321.0 1160.4,332.8 1160.7,315.1 1161.0,335.8 1161.3,326.9 1161.6,312.1 1161.9,303.3 1162.2,335.8 1162.5,303.3 1162.8,321.0 1163.1,318.1 1163.4,329.9 1163.7,315.1 1164.0,303.3 1164.3,300.4 1164.6,332.8 1164.9,315.1 1165.2,321.0 1165.5,318.1 1165.8,318.1 1166.1,312.1 1166.4,318.1 1166.7,309.2 1167.0,326.9 1167.3,294.4 1167.6,332.8 1167.9,309.2 1168.2,332.8 1168.5,303.3 1168.8,326.9 1169.1,326.9 1169.4,332.8 1169.7,297.4 1170.0,335.8 1170.3,312.1 1170.6,321.0 1170.9,309.2 1171.2,332.8 1171.5,309.2 1171.8,321.0 1172.1,309.2 1172.4,321.0 1172.7,300.4 1173.0,332.8 1173.3,309.2 1173.6,326.9 1173.9,318.1 1174.2,335.8 1174.5,321.0 1174.8,335.8 1175.1,329.9 1175.4,332.8 1175.7,318.1 1176.0,347.6 1176.3,323.9 1176.6,329.9 1176.9,318.1 1177.2,332.8 1177.5,312.1 1177.8,323.9 1178.1,306.2 1178.4,323.9 1178.7,321.0 1179.0,318.1 1179.3,297.4 1179.6,335.8 1179.9,312.1 1180.2,326.9 1180.5,315.1 1180.8,321.0 1181.1,312.1 1181.4,321.0 1181.7,309.2 1182.0,335.8 1182.3,315.1 1182.6,321.0 1182.9,309.2 1183.2,321.0 1183.5,318.1 1183.8,326.9 1184.1,321.0 1184.4,329.9 1184.7,309.2 1185.0,338.7 1185.3,321.0 1185.6,323.9 1185.9,332.8 1186.2,329.9 1186.5,338.7 1186.8,338.7 1187.1,344.6 1187.4,315.1 1187.7,309.2 1188.0,347.6 1188.3,318.1 1188.6,335.8 1188.9,315.1 1189.2,344.6 1189.5,326.9 1189.8,335.8 1190.1,323.9 1190.4,350.5 1190.7,332.8 1191.0,350.5 1191.3,309.2 1191.6,356.4 1191.9,326.9 1192.2,341.6 1192.5,329.9 1192.8,347.6 1193.1,323.9 1193.4,356.4 1193.7,332.8 1194.0,344.6 1194.3,329.9 1194.6,350.5 1194.9,335.8 1195.2,335.8 1195.5,332.8 1195.8,338.7 1196.1,323.9 1196.4,332.8 1196.7,321.0 1197.0,329.9 1197.3,323.9 1197.6,329.9 1197.9,321.0 1198.2,329.9 1198.5,312.1 1198.8,329.9 1199.1,318.1 1199.4,323.9 1199.7,312.1 1200.0,323.9 1200.3,315.1 1200.6,318.1 1200.9,312.1 1201.2,309.2 1201.5,303.3 1201.8,321.0 1202.1,300.4 1202.4,329.9 1202.7,315.1 1203.0,329.9 1203.3,318.1 1203.6,332.8 1203.9,323.9 1204.2,335.8 1204.5,315.1 1204.8,341.6 1205.1,326.9 1205.4,335.8 1205.7,329.9 1206.0,329.9 1206.3,318.1 1206.6,326.9 1206.9,321.0 1207.2,323.9 1207.5,309.2 1207.8,338.7 1208.1,318.1 1208.4,326.9 1208.7,312.1 1209.0,318.1 1209.3,312.1 1209.6,323.9 1209.9,315.1 1210.2,332.8 1210.5,306.2 1210.8,300.4 1211.1,297.4 1211.4,332.8 1211.7,297.4 1212.0,297.4 1212.3,303.3 1212.6,315.1 1212.9,300.4 1213.2,312.1 1213.5,303.3 1213.8,321.0 1214.1,288.6 1214.4,323.9 1214.7,303.3 1215.0,312.1 1215.3,306.2 1215.6,312.1 1215.9,306.2 1216.2,312.1 1216.5,300.4 1216.8,323.9 1217.1,312.1 1217.4,323.9 1217.7,312.1 1218.0,318.1 1218.3,309.2 1218.6,321.0 1218.9,312.1 1219.2,315.1 1219.5,309.2 1219.8,312.1 1220.1,312.1 1220.4,323.9 1220.7,309.2 1221.0,321.0 1221.3,303.3 1221.6,326.9 1221.9,303.3 1222.2,321.0 1222.5,309.2 1222.8,315.1 1223.1,303.3 1223.4,323.9 1223.7,297.4 1224.0,329.9 1224.3,323.9 1224.6,315.1 1224.9,312.1 1225.2,321.0 1225.5,315.1 1225.8,321.0 1226.1,303.3 1226.4,306.2 1226.7,318.1 1227.0,329.9 1227.3,309.2 1227.6,306.2 1227.9,297.4 1228.2,332.8 1228.5,323.9 1228.8,338.7 1229.1,323.9 1229.4,353.4 1229.7,315.1 1230.0,356.4 1230.3,329.9 1230.6,344.6 1230.9,321.0 1231.2,344.6 1231.5,341.6 1231.8,341.6 1232.1,323.9 1232.4,332.8 1232.7,332.8 1233.0,335.8 1233.3,326.9 1233.6,332.8 1233.9,306.2 1234.2,341.6 1234.5,323.9 1234.8,338.7 1235.1,323.9 1235.4,344.6 1235.7,329.9 1236.0,353.4 1236.3,335.8 1236.6,341.6 1236.9,332.8 1237.2,344.6 1237.5,338.7 1237.8,341.6 1238.1,323.9 1238.4,318.1 1238.7,309.2 1239.0,347.6 1239.3,318.1 1239.6,338.7 1239.9,321.0 1240.2,323.9 1240.5,329.9 1240.8,341.6 1241.1,329.9 1241.4,344.6 1241.7,326.9 1242.0,350.5 1242.3,344.6 1242.6,344.6 1242.9,344.6 1243.2,353.4 1243.5,323.9 1243.8,353.4 1244.1,323.9 1244.4,344.6 1244.7,326.9 1245.0,326.9 1245.3,321.0 1245.6,341.6 1245.9,326.9 1246.2,335.8 1246.5,338.7 1246.8,332.8 1247.1,323.9 1247.4,332.8 1247.7,312.1 1248.0,335.8 1248.3,312.1 1248.6,326.9 1248.9,309.2 1249.2,321.0 1249.5,303.3 1249.8,321.0 1250.1,297.4 1250.4,329.9 1250.7,309.2 1251.0,326.9 1251.3,323.9 1251.6,318.1 1251.9,297.4 1252.2,323.9 1252.5,306.2 1252.8,312.1 1253.1,318.1 1253.4,315.1 1253.7,303.3 1254.0,321.0 1254.3,309.2 1254.6,315.1 1254.9,303.3 1255.2,323.9 1255.5,312.1 1255.8,312.1 1256.1,300.4 1256.4,332.8 1256.7,315.1 1257.0,318.1 1257.3,303.3 1257.6,318.1 1257.9,309.2 1258.2,321.0 1258.5,303.3 1258.8,338.7 1259.1,329.9 1259.4,326.9 1259.7,318.1 1260.0,329.9 1260.3,326.9 1260.6,344.6 1260.9,335.8 1261.2,341.6 1261.5,326.9 1261.8,350.5 1262.1,341.6 1262.4,341.6 1262.7,329.9 1263.0,335.8 1263.3,326.9 1263.6,332.8 1263.9,323.9 1264.2,338.7 1264.5,315.1 1264.8,335.8 1265.1,309.2 1265.4,341.6 1265.7,312.1 1266.0,326.9 1266.3,315.1 1266.6,335.8 1266.9,318.1 1267.2,329.9 1267.5,326.9 1267.8,332.8 1268.1,321.0 1268.4,335.8 1268.7,323.9 1269.0,332.8 1269.3,318.1 1269.6,329.9 1269.9,318.1 1270.2,321.0 1270.5,323.9 1270.8,329.9 1271.1,303.3 1271.4,332.8 1271.7,303.3 1272.0,323.9 1272.3,309.2 1272.6,321.0 1272.9,297.4 1273.2,326.9 1273.5,306.2 1273.8,321.0 1274.1,300.4 1274.4,315.1 1274.7,300.4 1275.0,323.9 1275.3,309.2 1275.6,318.1 1275.9,303.3 1276.2,321.0 1276.5,309.2 1276.8,318.1 1277.1,303.3 1277.4,321.0 1277.7,312.1 1278.0,318.1 1278.3,303.3 1278.6,318.1 1278.9,309.2 1279.2,309.2 1279.5,303.3 1279.8,315.1 1280.1,303.3 1280.4,309.2 1280.7,303.3 1281.0,312.1 1281.3,306.2 1281.6,309.2 1281.9,303.3 1282.2,306.2 1282.5,300.4 1282.8,309.2 1283.1,300.4 1283.4,306.2 1283.7,303.3 1284.0,306.2 1284.3,297.4 1284.6,309.2 1284.9,303.3 1285.2,303.3 1285.5,303.3 1285.8,309.2 1286.1,303.3 1286.4,309.2 1286.7,297.4 1287.0,318.1 1287.3,309.2 1287.6,318.1 1287.9,306.2 1288.2,332.8 1288.5,312.1 1288.8,323.9 1289.1,321.0 1289.4,321.0 1289.7,318.1 1290.0,332.8 1290.3,318.1 1290.6,321.0 1290.9,312.1 1291.2,321.0 1291.5,321.0 1291.8,312.1 1292.1,318.1 1292.4,323.9 1292.7,321.0 1293.0,318.1 1293.3,318.1 1293.6,318.1 1293.9,303.3 1294.2,332.8 1294.5,309.2 1294.8,341.6 1295.1,329.9 1295.4,329.9 1295.7,321.0 1296.0,329.9 1296.3,318.1 1296.6,332.8 1296.9,318.1 1297.2,323.9 1297.5,306.2 1297.8,323.9 1298.1,306.2 1298.4,309.2 1298.7,294.4 1299.0,315.1 1299.3,294.4 1299.6,300.4 1299.9,297.4 1300.2,306.2 1300.5,291.5 1300.8,297.4 1301.1,291.5 1301.4,300.4 1301.7,294.4 1302.0,306.2 1302.3,288.6" stroke="#0000ff" stroke-width="1.39"/><polyline points="1248.6,300.0 1250.2,296.0 1251.6,284.0 1252.8,270.0 1253.7,263.6 1254.4,274.0 1255.2,296.0 1255.8,313.0" stroke="#0000ff" stroke-width="1.39"/><polyline points="1249.8,298.0 1252.0,281.0 1253.3,266.0 1253.9,265.0 1254.0,282.0 1253.0,292.0 1252.0,300.0" stroke="#0000ff" stroke-width="1.39"/><polyline points="1270.8,303.0 1273.2,296.5 1274.6,280.0 1275.4,266.0 1275.9,260.6 1276.5,270.0 1277.2,290.0 1277.7,303.0 1278.0,320.0" stroke="#0000ff" stroke-width="1.39"/><polyline points="1272.5,300.0 1274.9,272.0 1275.8,262.0 1276.2,275.0 1276.0,300.0" stroke="#0000ff" stroke-width="1.39"/><polyline points="1277.9,308.0 1278.5,287.0 1279.3,262.0 1279.9,250.0 1280.7,243.4 1281.3,249.0 1282.0,254.0 1282.5,286.0 1283.6,292.0 1284.6,297.0 1285.8,306.0" stroke="#0000ff" stroke-width="1.39"/><polyline points="1279.0,290.0 1279.9,258.0 1280.5,246.0 1281.1,245.0 1281.5,262.0 1281.8,296.0 1283.0,302.0" stroke="#0000ff" stroke-width="1.39"/>
<line x1="139.40" y1="70.50" x2="1302.50" y2="70.50" stroke="#bfbf00" stroke-width="5.56" stroke-dasharray="8.33 8.33"/>
<line x1="139.40" y1="490.50" x2="1302.50" y2="490.50" stroke="#bfbf00" stroke-width="5.56" stroke-dasharray="8.33 8.33"/>
</g>
<g stroke="#000" stroke-width="0.7" stroke-dasharray="1.39 4.17" fill="none">
<line x1="236.27" y1="630.50" x2="236.27" y2="70.50"/>
<line x1="333.20" y1="630.50" x2="333.20" y2="70.50"/>
<line x1="430.13" y1="630.50" x2="430.13" y2="70.50"/>
<line x1="527.06" y1="630.50" x2="527.06" y2="70.50"/>
<line x1="623.99" y1="630.50" x2="623.99" y2="70.50"/>
<line x1="720.92" y1="630.50" x2="720.92" y2="70.50"/>
<line x1="817.85" y1="630.50" x2="817.85" y2="70.50"/>
<line x1="914.78" y1="630.50" x2="914.78" y2="70.50"/>
<line x1="1011.71" y1="630.50" x2="1011.71" y2="70.50"/>
<line x1="1108.64" y1="630.50" x2="1108.64" y2="70.50"/>
<line x1="1205.57" y1="630.50" x2="1205.57" y2="70.50"/>
<line x1="139.50" y1="560.50" x2="1302.50" y2="560.50"/>
<line x1="139.50" y1="490.50" x2="1302.50" y2="490.50"/>
<line x1="139.50" y1="420.50" x2="1302.50" y2="420.50"/>
<line x1="139.50" y1="350.50" x2="1302.50" y2="350.50"/>
<line x1="139.50" y1="280.50" x2="1302.50" y2="280.50"/>
<line x1="139.50" y1="210.50" x2="1302.50" y2="210.50"/>
<line x1="139.50" y1="140.50" x2="1302.50" y2="140.50"/>
</g>
<g stroke="#000" stroke-width="0.8" fill="none">
<line x1="236.27" y1="630.50" x2="236.27" y2="624.94"/>
<line x1="236.27" y1="70.50" x2="236.27" y2="76.06"/>
<line x1="333.20" y1="630.50" x2="333.20" y2="624.94"/>
<line x1="333.20" y1="70.50" x2="333.20" y2="76.06"/>
<line x1="430.13" y1="630.50" x2="430.13" y2="624.94"/>
<line x1="430.13" y1="70.50" x2="430.13" y2="76.06"/>
<line x1="527.06" y1="630.50" x2="527.06" y2="624.94"/>
<line x1="527.06" y1="70.50" x2="527.06" y2="76.06"/>
<line x1="623.99" y1="630.50" x2="623.99" y2="624.94"/>
<line x1="623.99" y1="70.50" x2="623.99" y2="76.06"/>
<line x1="720.92" y1="630.50" x2="720.92" y2="624.94"/>
<line x1="720.92" y1="70.50" x2="720.92" y2="76.06"/>
<line x1="817.85" y1="630.50" x2="817.85" y2="624.94"/>
<line x1="817.85" y1="70.50" x2="817.85" y2="76.06"/>
<line x1="914.78" y1="630.50" x2="914.78" y2="624.94"/>
<line x1="914.78" y1="70.50" x2="914.78" y2="76.06"/>
<line x1="1011.71" y1="630.50" x2="1011.71" y2="624.94"/>
<line x1="1011.71" y1="70.50" x2="1011.71" y2="76.06"/>
<line x1="1108.64" y1="630.50" x2="1108.64" y2="624.94"/>
<line x1="1108.64" y1="70.50" x2="1108.64" y2="76.06"/>
<line x1="1205.57" y1="630.50" x2="1205.57" y2="624.94"/>
<line x1="1205.57" y1="70.50" x2="1205.57" y2="76.06"/>
<line x1="1302.50" y1="630.50" x2="1302.50" y2="624.94"/>
<line x1="1302.50" y1="70.50" x2="1302.50" y2="76.06"/>
<line x1="139.50" y1="630.50" x2="145.06" y2="630.50"/>
<line x1="1302.50" y1="630.50" x2="1296.94" y2="630.50"/>
<line x1="139.50" y1="560.50" x2="145.06" y2="560.50"/>
<line x1="1302.50" y1="560.50" x2="1296.94" y2="560.50"/>
<line x1="139.50" y1="490.50" x2="145.06" y2="490.50"/>
<line x1="1302.50" y1="490.50" x2="1296.94" y2="490.50"/>
<line x1="139.50" y1="420.50" x2="145.06" y2="420.50"/>
<line x1="1302.50" y1="420.50" x2="1296.94" y2="420.50"/>
<line x1="139.50" y1="350.50" x2="145.06" y2="350.50"/>
<line x1="1302.50" y1="350.50" x2="1296.94" y2="350.50"/>
<line x1="139.50" y1="280.50" x2="145.06" y2="280.50"/>
<line x1="1302.50" y1="280.50" x2="1296.94" y2="280.50"/>
<line x1="139.50" y1="210.50" x2="145.06" y2="210.50"/>
<line x1="1302.50" y1="210.50" x2="1296.94" y2="210.50"/>
<line x1="139.50" y1="140.50" x2="145.06" y2="140.50"/>
<line x1="1302.50" y1="140.50" x2="1296.94" y2="140.50"/>
<line x1="139.50" y1="70.50" x2="145.06" y2="70.50"/>
<line x1="1302.50" y1="70.50" x2="1296.94" y2="70.50"/>
</g>
<rect x="139.50" y="70.50" width="1163.00" height="560.00" fill="none" stroke="#000" stroke-width="1.39"/>
<g class="tk" text-anchor="end">
<text x="134.7" y="638.50">−100</text>
<text x="134.7" y="568.50">−50</text>
<text x="134.7" y="498.50">0</text>
<text x="134.7" y="428.50">50</text>
<text x="134.7" y="358.50">100</text>
<text x="134.7" y="288.50">150</text>
<text x="134.7" y="218.50">200</text>
<text x="134.7" y="148.50">250</text>
<text x="134.7" y="78.50">300</text>
</g>
<g class="tk" text-anchor="middle">
<text x="235.67" y="657.2">01</text>
<text x="332.60" y="657.2">02</text>
<text x="429.53" y="657.2">03</text>
<text x="526.46" y="657.2">04</text>
<text x="623.39" y="657.2">05</text>
<text x="720.32" y="657.2">06</text>
<text x="817.25" y="657.2">07</text>
<text x="914.18" y="657.2">08</text>
<text x="1011.11" y="657.2">09</text>
<text x="1106.84" y="657.2">10</text>
<text x="1203.77" y="657.2">11</text>
<text x="1300.70" y="657.2">12</text>
</g>
<text class="lb" x="722" y="35.9" text-anchor="middle" style="font-size:33.4px">PG time series from 2025.10.30. 00:00:06 - 2025.10.30. 12:00:00</text>
<text class="lb" x="722.5" y="696.5" text-anchor="middle">Hours (UT)</text>
<g transform="translate(41.1 436.9) rotate(-90)">
<text class="lb" x="-3.00" y="0">PG (</text>
<text class="m" font-size="35.40px" transform="translate(75.16 0.00) scale(1.080 1)">V</text><text class="m" font-size="35.40px" transform="translate(94.60 0.00) scale(1.080 1)">m</text><text class="mr" font-size="24.29px" transform="translate(125.44 -11.88) scale(1.000 1)">−</text><text class="mr" font-size="20.76px" transform="translate(140.92 -13.20) scale(1.000 1)">1</text>
<text class="lb" x="158.60" y="0">)</text>
</g>
<rect x="278.3" y="744.2" width="885" height="90.1" fill="#fff" stroke="#000" stroke-width="1.39"/>
<g fill="none">
<line x1="293.85" y1="767.6" x2="338.1" y2="767.6" stroke="#ff0000" stroke-width="6.94"/>
<line x1="293.85" y1="806.5" x2="338.1" y2="806.5" stroke="#008000" stroke-width="6.94"/>
<line x1="731.0" y1="767.6" x2="775.2" y2="767.6" stroke="#0000ff" stroke-width="6.94"/>
</g>
<g fill="#bfbf00">
<rect x="734.50" y="805.1" width="8.10" height="6.9"/>
<rect x="751.30" y="805.1" width="8.20" height="6.9"/>
<rect x="767.80" y="805.1" width="3.90" height="6.9"/>
<rect x="996.40" y="764.1" width="8.50" height="6.9"/>
<rect x="1013.30" y="764.1" width="8.30" height="6.9"/>
<rect x="1029.70" y="764.1" width="3.90" height="6.9"/>
</g>
<g class="lg">
<text x="363.10" y="776.8">The 1962 instrument</text>
<text x="363.10" y="817.0">The 1998 instrument</text>
<text x="799.40" y="776.8">Field mill</text>
<text x="800.60" y="817.6">300</text>
<text x="1063.20" y="776.9">0</text>
</g>
<text class="m" font-size="29.50px" transform="translate(864.60 817.70) scale(1.080 1)">V</text><text class="m" font-size="29.50px" transform="translate(880.80 817.70) scale(1.080 1)">m</text><text class="mr" font-size="20.24px" transform="translate(904.50 807.80) scale(1.000 1)">−</text><text class="mr" font-size="17.30px" transform="translate(917.40 806.70) scale(1.000 1)">1</text>
<text class="m" font-size="29.50px" transform="translate(1089.60 777.00) scale(1.080 1)">V</text><text class="m" font-size="29.50px" transform="translate(1105.80 777.00) scale(1.080 1)">m</text><text class="mr" font-size="20.24px" transform="translate(1129.50 767.10) scale(1.000 1)">−</text><text class="mr" font-size="17.30px" transform="translate(1142.40 766.00) scale(1.000 1)">1</text>
</svg>
</body></html>
